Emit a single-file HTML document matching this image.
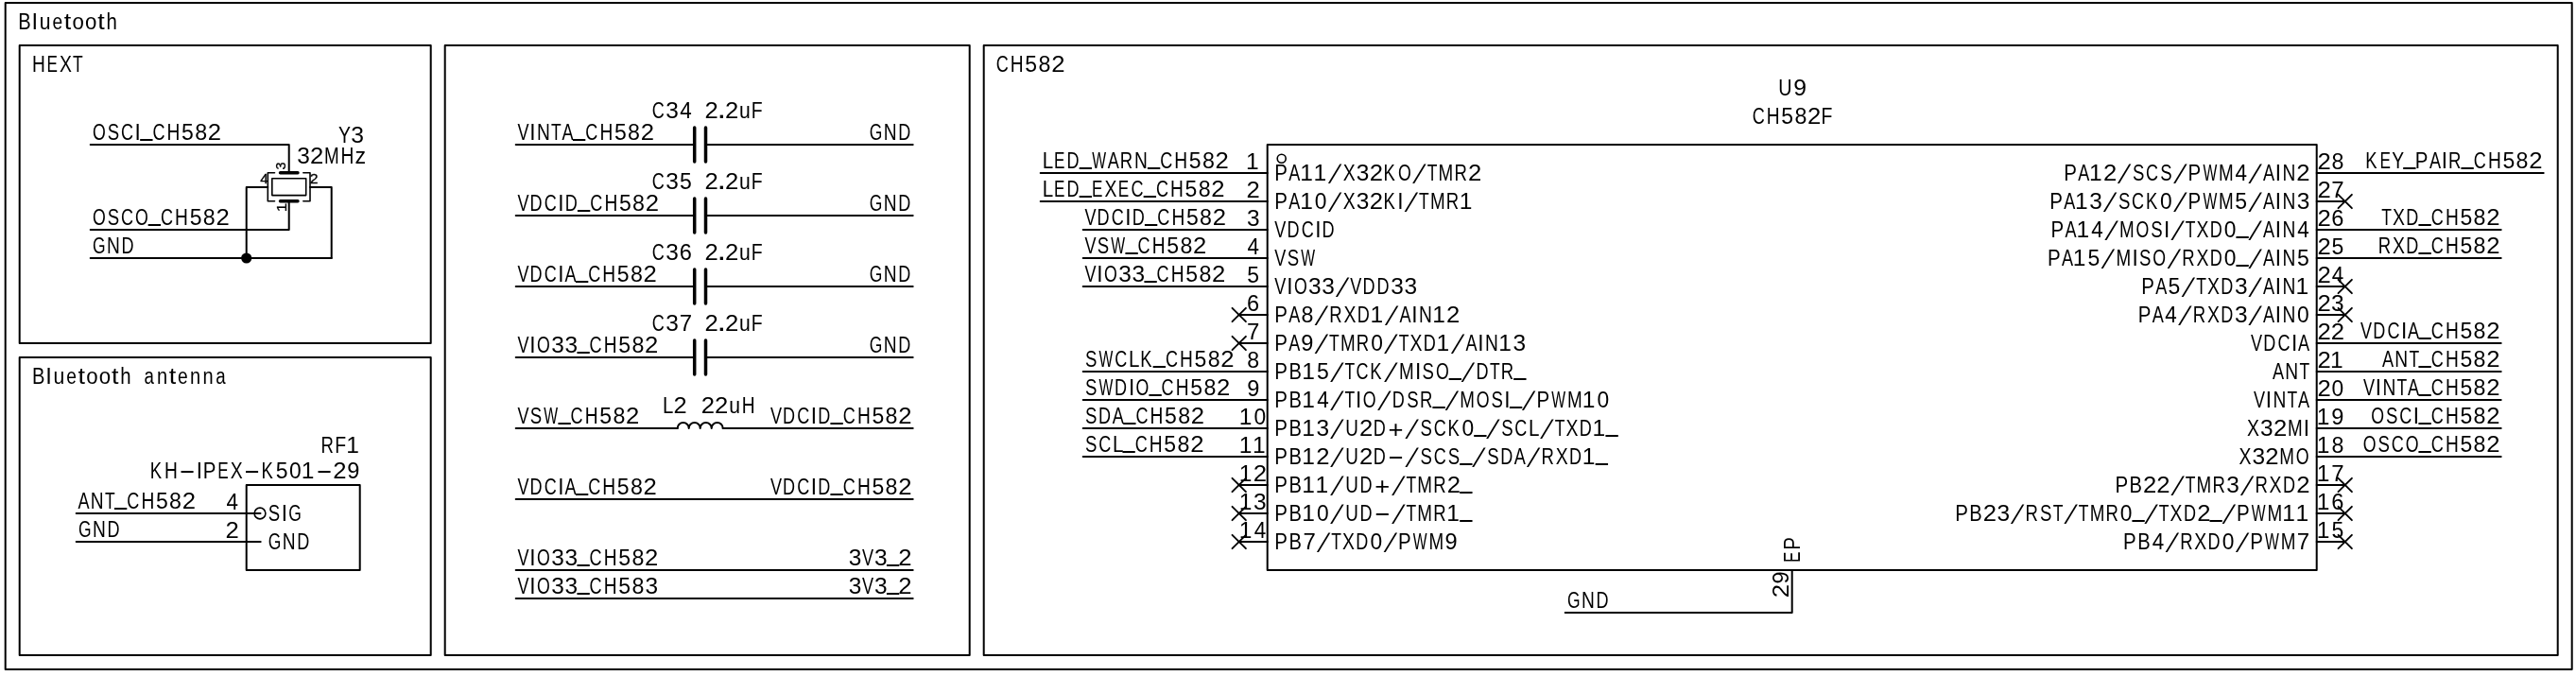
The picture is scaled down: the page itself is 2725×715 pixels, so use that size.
<!DOCTYPE html>
<html><head><meta charset="utf-8"><title>Bluetooth schematic</title><style>
html,body{margin:0;padding:0;background:#fff;}
svg{display:block;filter:grayscale(100%);}
text{font-family:"Liberation Sans",sans-serif;font-size:24.5px;fill:#000;stroke:none;font-kerning:none;}
.sm text{stroke:#000;stroke-width:0.5px;}
</style></head><body>
<svg width="2725" height="715" viewBox="0 0 2725 715">
<g stroke="#000" fill="none" stroke-linecap="round" stroke-linejoin="round">
<rect x="5.70" y="3.00" width="2715.00" height="705.00" stroke-width="2.00"/>
<rect x="20.70" y="48.00" width="435.00" height="315.00" stroke-width="2.00"/>
<rect x="20.70" y="378.00" width="435.00" height="315.00" stroke-width="2.00"/>
<rect x="470.70" y="48.00" width="555.00" height="645.00" stroke-width="2.00"/>
<rect x="1040.70" y="48.00" width="1665.00" height="645.00" stroke-width="2.00"/>
<text transform="matrix(0.821 0 0 1.000 26.15 31.00)" x="-8.53">B</text><text transform="matrix(1.022 0 0 1.000 36.83 31.00)" x="-2.73">l</text><text transform="matrix(0.865 0 0 1.000 47.58 31.00)" x="-6.79">u</text><text transform="matrix(0.783 0 0 1.000 60.80 31.00)" x="-6.79">e</text><text transform="matrix(1.103 0 0 1.000 71.51 31.00)" x="-3.50">t</text><text transform="matrix(0.908 0 0 1.000 82.58 31.00)" x="-6.81">o</text><text transform="matrix(0.908 0 0 1.000 96.15 31.00)" x="-6.81">o</text><text transform="matrix(1.103 0 0 1.000 107.22 31.00)" x="-3.50">t</text><text transform="matrix(0.832 0 0 1.000 118.30 31.00)" x="-6.87">h</text>
<text transform="matrix(0.782 0 0 1.000 40.84 75.70)" x="-8.85">H</text><text transform="matrix(0.700 0 0 1.000 55.48 75.70)" x="-8.65">E</text><text transform="matrix(0.792 0 0 1.000 69.41 75.70)" x="-8.19">X</text><text transform="matrix(0.715 0 0 1.000 82.26 75.70)" x="-7.48">T</text>
<text transform="matrix(0.821 0 0 1.000 40.90 405.70)" x="-8.53">B</text><text transform="matrix(1.022 0 0 1.000 51.57 405.70)" x="-2.73">l</text><text transform="matrix(0.865 0 0 1.000 62.32 405.70)" x="-6.79">u</text><text transform="matrix(0.783 0 0 1.000 75.54 405.70)" x="-6.79">e</text><text transform="matrix(1.103 0 0 1.000 86.25 405.70)" x="-3.50">t</text><text transform="matrix(0.908 0 0 1.000 97.32 405.70)" x="-6.81">o</text><text transform="matrix(0.908 0 0 1.000 110.90 405.70)" x="-6.81">o</text><text transform="matrix(1.103 0 0 1.000 121.97 405.70)" x="-3.50">t</text><text transform="matrix(0.832 0 0 1.000 133.04 405.70)" x="-6.87">h</text><text transform="matrix(0.763 0 0 1.000 158.04 405.70)" x="-7.33">a</text><text transform="matrix(0.817 0 0 1.000 171.61 405.70)" x="-6.83">n</text><text transform="matrix(1.103 0 0 1.000 182.68 405.70)" x="-3.50">t</text><text transform="matrix(0.783 0 0 1.000 193.40 405.70)" x="-6.79">e</text><text transform="matrix(0.817 0 0 1.000 206.61 405.70)" x="-6.83">n</text><text transform="matrix(0.817 0 0 1.000 220.18 405.70)" x="-6.83">n</text><text transform="matrix(0.763 0 0 1.000 233.75 405.70)" x="-7.33">a</text>
<text transform="matrix(0.735 0 0 1.000 1060.36 75.70)" x="-9.00">C</text><text transform="matrix(0.782 0 0 1.000 1075.72 75.70)" x="-8.85">H</text><text transform="matrix(0.938 0 0 1.000 1090.72 75.70)" x="-6.79">5</text><text transform="matrix(0.948 0 0 1.000 1105.00 75.70)" x="-6.81">8</text><text transform="matrix(1.048 0 0 1.000 1119.29 75.70)" x="-6.81">2</text>
<polyline points="95.70,153.00 305.70,153.00 305.70,182.80" stroke-width="2.00"/>
<polyline points="95.70,243.00 305.70,243.00 305.70,212.80" stroke-width="2.00"/>
<polyline points="283.30,198.00 260.70,198.00 260.70,273.00" stroke-width="2.00"/>
<polyline points="328.00,198.00 350.70,198.00 350.70,273.00" stroke-width="2.00"/>
<line x1="95.70" y1="273.00" x2="350.70" y2="273.00" stroke-width="2.00"/>
<circle cx="260.70" cy="273.00" r="5.6" fill="#000" stroke="none"/>
<line x1="296.50" y1="182.80" x2="315.00" y2="182.80" stroke-width="3.40"/>
<line x1="296.50" y1="212.80" x2="315.00" y2="212.80" stroke-width="3.40"/>
<rect x="287.80" y="188.80" width="35.90" height="17.80" stroke-width="1.60"/>
<polyline points="290.50,182.80 283.30,182.80 283.30,212.80 290.50,212.80" stroke-width="1.60"/>
<polyline points="320.80,182.80 328.00,182.80 328.00,212.80 320.80,212.80" stroke-width="1.60"/>
<text transform="matrix(0.724 0 0 1.000 104.86 147.80)" x="-9.52">O</text><text transform="matrix(0.759 0 0 1.000 119.86 147.80)" x="-8.16">S</text><text transform="matrix(0.735 0 0 1.000 134.50 147.80)" x="-9.00">C</text><text transform="matrix(0.919 0 0 1.000 145.57 147.80)" x="-3.40">I</text><text transform="matrix(0.939 0 0 1.300 154.86 143.08)" x="-6.77">_</text><text transform="matrix(0.735 0 0 1.000 168.07 147.80)" x="-9.00">C</text><text transform="matrix(0.782 0 0 1.000 183.43 147.80)" x="-8.85">H</text><text transform="matrix(0.938 0 0 1.000 198.43 147.80)" x="-6.79">5</text><text transform="matrix(0.948 0 0 1.000 212.71 147.80)" x="-6.81">8</text><text transform="matrix(1.048 0 0 1.000 227.00 147.80)" x="-6.81">2</text>
<text transform="matrix(0.724 0 0 1.000 104.86 237.80)" x="-9.52">O</text><text transform="matrix(0.759 0 0 1.000 119.86 237.80)" x="-8.16">S</text><text transform="matrix(0.735 0 0 1.000 134.50 237.80)" x="-9.00">C</text><text transform="matrix(0.724 0 0 1.000 149.86 237.80)" x="-9.52">O</text><text transform="matrix(0.939 0 0 1.300 163.43 233.08)" x="-6.77">_</text><text transform="matrix(0.735 0 0 1.000 176.64 237.80)" x="-9.00">C</text><text transform="matrix(0.782 0 0 1.000 192.00 237.80)" x="-8.85">H</text><text transform="matrix(0.938 0 0 1.000 207.00 237.80)" x="-6.79">5</text><text transform="matrix(0.948 0 0 1.000 221.29 237.80)" x="-6.81">8</text><text transform="matrix(1.048 0 0 1.000 235.57 237.80)" x="-6.81">2</text>
<text transform="matrix(0.713 0 0 1.000 104.50 267.80)" x="-9.23">G</text><text transform="matrix(0.782 0 0 1.000 119.86 267.80)" x="-8.85">N</text><text transform="matrix(0.737 0 0 1.000 135.21 267.80)" x="-9.27">D</text>
<text transform="matrix(0.793 0 0 1.000 364.35 151.30)" x="-8.17">Y</text><text transform="matrix(1.008 0 0 1.000 378.05 151.30)" x="-6.74">3</text>
<text transform="matrix(0.999 0 0 1.000 320.95 172.60)" x="-6.74">3</text><text transform="matrix(1.048 0 0 1.000 335.23 172.60)" x="-6.81">2</text><text transform="matrix(0.769 0 0 1.000 350.95 172.60)" x="-10.20">M</text><text transform="matrix(0.782 0 0 1.000 367.38 172.60)" x="-8.85">H</text><text transform="matrix(0.947 0 0 1.000 381.30 172.60)" x="-6.01">z</text>
<g class="sm">
<text transform="matrix(0.624 0 0 0.592 279.45 193.80)" x="-6.74">4</text>
<text transform="matrix(0.645 0 0 0.592 332.10 193.80)" x="-6.81">2</text>
<g transform="rotate(-90)"><text transform="matrix(0.585 0 0 0.592 -175.60 302.00)" x="-6.74">3</text></g>
<g transform="rotate(-90)"><text transform="matrix(0.701 0 0 0.592 -219.30 302.60)" x="-7.15">1</text></g>
</g>
<rect x="260.70" y="513.00" width="120.00" height="90.00" stroke-width="2.00"/>
<line x1="80.70" y1="543.00" x2="275.50" y2="543.00" stroke-width="2.00"/>
<line x1="80.70" y1="573.00" x2="275.70" y2="573.00" stroke-width="2.00"/>
<circle cx="275.0" cy="543.00" r="5.9" stroke-width="1.6"/>
<text transform="matrix(0.756 0 0 1.000 346.60 478.90)" x="-9.28">R</text><text transform="matrix(0.793 0 0 1.000 360.53 478.90)" x="-8.00">F</text><text transform="matrix(1.003 0 0 1.000 373.50 478.90)" x="-7.15">1</text>
<text transform="matrix(0.754 0 0 1.000 165.57 505.90)" x="-9.04">K</text><text transform="matrix(0.782 0 0 1.000 180.93 505.90)" x="-8.85">H</text><text transform="matrix(0.962 0 0 1.200 198.07 506.70)" x="-6.81">–</text><text transform="matrix(0.919 0 0 1.000 210.93 505.90)" x="-3.40">I</text><text transform="matrix(0.836 0 0 1.000 222.00 505.90)" x="-8.53">P</text><text transform="matrix(0.700 0 0 1.000 236.28 505.90)" x="-8.65">E</text><text transform="matrix(0.792 0 0 1.000 250.21 505.90)" x="-8.19">X</text><text transform="matrix(0.962 0 0 1.200 266.64 506.70)" x="-6.81">–</text><text transform="matrix(0.754 0 0 1.000 283.43 505.90)" x="-9.04">K</text><text transform="matrix(0.938 0 0 1.000 298.07 505.90)" x="-6.79">5</text><text transform="matrix(0.931 0 0 1.000 312.35 505.90)" x="-6.81">0</text><text transform="matrix(1.003 0 0 1.000 326.04 505.90)" x="-7.15">1</text><text transform="matrix(0.962 0 0 1.200 343.07 506.70)" x="-6.81">–</text><text transform="matrix(1.048 0 0 1.000 359.50 505.90)" x="-6.81">2</text><text transform="matrix(0.963 0 0 1.000 373.78 505.90)" x="-6.81">9</text>
<text transform="matrix(0.739 0 0 1.000 88.43 537.80)" x="-8.17">A</text><text transform="matrix(0.782 0 0 1.000 102.71 537.80)" x="-8.85">N</text><text transform="matrix(0.715 0 0 1.000 116.29 537.80)" x="-7.48">T</text><text transform="matrix(0.939 0 0 1.300 127.71 533.08)" x="-6.77">_</text><text transform="matrix(0.735 0 0 1.000 140.93 537.80)" x="-9.00">C</text><text transform="matrix(0.782 0 0 1.000 156.29 537.80)" x="-8.85">H</text><text transform="matrix(0.938 0 0 1.000 171.29 537.80)" x="-6.79">5</text><text transform="matrix(0.948 0 0 1.000 185.57 537.80)" x="-6.81">8</text><text transform="matrix(1.048 0 0 1.000 199.86 537.80)" x="-6.81">2</text>
<text transform="matrix(0.713 0 0 1.000 89.50 567.80)" x="-9.23">G</text><text transform="matrix(0.782 0 0 1.000 104.86 567.80)" x="-8.85">N</text><text transform="matrix(0.737 0 0 1.000 120.21 567.80)" x="-9.27">D</text>
<text transform="matrix(0.915 0 0 1.000 245.70 538.80)" x="-6.74">4</text>
<text transform="matrix(1.048 0 0 1.000 245.70 568.80)" x="-6.81">2</text>
<text transform="matrix(0.759 0 0 1.000 290.04 550.80)" x="-8.16">S</text><text transform="matrix(0.919 0 0 1.000 300.76 550.80)" x="-3.40">I</text><text transform="matrix(0.713 0 0 1.000 311.83 550.80)" x="-9.23">G</text>
<text transform="matrix(0.713 0 0 1.000 290.40 580.80)" x="-9.23">G</text><text transform="matrix(0.782 0 0 1.000 305.76 580.80)" x="-8.85">N</text><text transform="matrix(0.737 0 0 1.000 321.11 580.80)" x="-9.27">D</text>
<line x1="545.70" y1="153.00" x2="734.70" y2="153.00" stroke-width="2.00"/>
<line x1="746.50" y1="153.00" x2="965.70" y2="153.00" stroke-width="2.00"/>
<line x1="734.70" y1="135.00" x2="734.70" y2="171.00" stroke-width="3.50"/>
<line x1="746.50" y1="135.00" x2="746.50" y2="171.00" stroke-width="3.50"/>
<text transform="matrix(0.735 0 0 1.000 696.36 124.90)" x="-9.00">C</text><text transform="matrix(0.999 0 0 1.000 711.00 124.90)" x="-6.74">3</text><text transform="matrix(0.915 0 0 1.000 725.29 124.90)" x="-6.74">4</text>
<text transform="matrix(1.048 0 0 1.000 752.61 124.90)" x="-6.81">2</text><text transform="matrix(1.415 0 0 1.250 763.33 124.90)" x="-3.40">.</text><text transform="matrix(1.048 0 0 1.000 774.04 124.90)" x="-6.81">2</text><text transform="matrix(0.865 0 0 1.000 787.97 124.90)" x="-6.79">u</text><text transform="matrix(0.793 0 0 1.000 801.19 124.90)" x="-8.00">F</text>
<text transform="matrix(0.713 0 0 1.000 926.29 147.80)" x="-9.23">G</text><text transform="matrix(0.782 0 0 1.000 941.64 147.80)" x="-8.85">N</text><text transform="matrix(0.737 0 0 1.000 957.00 147.80)" x="-9.27">D</text>
<line x1="545.70" y1="228.00" x2="734.70" y2="228.00" stroke-width="2.00"/>
<line x1="746.50" y1="228.00" x2="965.70" y2="228.00" stroke-width="2.00"/>
<line x1="734.70" y1="210.00" x2="734.70" y2="246.00" stroke-width="3.50"/>
<line x1="746.50" y1="210.00" x2="746.50" y2="246.00" stroke-width="3.50"/>
<text transform="matrix(0.735 0 0 1.000 696.46 199.90)" x="-9.00">C</text><text transform="matrix(0.999 0 0 1.000 711.10 199.90)" x="-6.74">3</text><text transform="matrix(0.938 0 0 1.000 725.39 199.90)" x="-6.79">5</text>
<text transform="matrix(1.048 0 0 1.000 752.61 199.90)" x="-6.81">2</text><text transform="matrix(1.415 0 0 1.250 763.33 199.90)" x="-3.40">.</text><text transform="matrix(1.048 0 0 1.000 774.04 199.90)" x="-6.81">2</text><text transform="matrix(0.865 0 0 1.000 787.97 199.90)" x="-6.79">u</text><text transform="matrix(0.793 0 0 1.000 801.19 199.90)" x="-8.00">F</text>
<text transform="matrix(0.713 0 0 1.000 926.29 222.80)" x="-9.23">G</text><text transform="matrix(0.782 0 0 1.000 941.64 222.80)" x="-8.85">N</text><text transform="matrix(0.737 0 0 1.000 957.00 222.80)" x="-9.27">D</text>
<line x1="545.70" y1="303.00" x2="734.70" y2="303.00" stroke-width="2.00"/>
<line x1="746.50" y1="303.00" x2="965.70" y2="303.00" stroke-width="2.00"/>
<line x1="734.70" y1="285.00" x2="734.70" y2="321.00" stroke-width="3.50"/>
<line x1="746.50" y1="285.00" x2="746.50" y2="321.00" stroke-width="3.50"/>
<text transform="matrix(0.735 0 0 1.000 696.46 274.90)" x="-9.00">C</text><text transform="matrix(0.999 0 0 1.000 711.10 274.90)" x="-6.74">3</text><text transform="matrix(0.964 0 0 1.000 725.39 274.90)" x="-6.90">6</text>
<text transform="matrix(1.048 0 0 1.000 752.61 274.90)" x="-6.81">2</text><text transform="matrix(1.415 0 0 1.250 763.33 274.90)" x="-3.40">.</text><text transform="matrix(1.048 0 0 1.000 774.04 274.90)" x="-6.81">2</text><text transform="matrix(0.865 0 0 1.000 787.97 274.90)" x="-6.79">u</text><text transform="matrix(0.793 0 0 1.000 801.19 274.90)" x="-8.00">F</text>
<text transform="matrix(0.713 0 0 1.000 926.29 297.80)" x="-9.23">G</text><text transform="matrix(0.782 0 0 1.000 941.64 297.80)" x="-8.85">N</text><text transform="matrix(0.737 0 0 1.000 957.00 297.80)" x="-9.27">D</text>
<line x1="545.70" y1="378.00" x2="734.70" y2="378.00" stroke-width="2.00"/>
<line x1="746.50" y1="378.00" x2="965.70" y2="378.00" stroke-width="2.00"/>
<line x1="734.70" y1="360.00" x2="734.70" y2="396.00" stroke-width="3.50"/>
<line x1="746.50" y1="360.00" x2="746.50" y2="396.00" stroke-width="3.50"/>
<text transform="matrix(0.735 0 0 1.000 696.46 349.90)" x="-9.00">C</text><text transform="matrix(0.999 0 0 1.000 711.10 349.90)" x="-6.74">3</text><text transform="matrix(0.979 0 0 1.000 725.39 349.90)" x="-6.82">7</text>
<text transform="matrix(1.048 0 0 1.000 752.61 349.90)" x="-6.81">2</text><text transform="matrix(1.415 0 0 1.250 763.33 349.90)" x="-3.40">.</text><text transform="matrix(1.048 0 0 1.000 774.04 349.90)" x="-6.81">2</text><text transform="matrix(0.865 0 0 1.000 787.97 349.90)" x="-6.79">u</text><text transform="matrix(0.793 0 0 1.000 801.19 349.90)" x="-8.00">F</text>
<text transform="matrix(0.713 0 0 1.000 926.29 372.80)" x="-9.23">G</text><text transform="matrix(0.782 0 0 1.000 941.64 372.80)" x="-8.85">N</text><text transform="matrix(0.737 0 0 1.000 957.00 372.80)" x="-9.27">D</text>
<text transform="matrix(0.738 0 0 1.000 553.43 147.80)" x="-8.17">V</text><text transform="matrix(0.919 0 0 1.000 563.43 147.80)" x="-3.40">I</text><text transform="matrix(0.782 0 0 1.000 574.86 147.80)" x="-8.85">N</text><text transform="matrix(0.715 0 0 1.000 588.43 147.80)" x="-7.48">T</text><text transform="matrix(0.739 0 0 1.000 600.57 147.80)" x="-8.17">A</text><text transform="matrix(0.939 0 0 1.300 612.71 143.08)" x="-6.77">_</text><text transform="matrix(0.735 0 0 1.000 625.93 147.80)" x="-9.00">C</text><text transform="matrix(0.782 0 0 1.000 641.29 147.80)" x="-8.85">H</text><text transform="matrix(0.938 0 0 1.000 656.29 147.80)" x="-6.79">5</text><text transform="matrix(0.948 0 0 1.000 670.57 147.80)" x="-6.81">8</text><text transform="matrix(1.048 0 0 1.000 684.86 147.80)" x="-6.81">2</text>
<text transform="matrix(0.738 0 0 1.000 553.43 222.80)" x="-8.17">V</text><text transform="matrix(0.737 0 0 1.000 567.36 222.80)" x="-9.27">D</text><text transform="matrix(0.735 0 0 1.000 582.36 222.80)" x="-9.00">C</text><text transform="matrix(0.919 0 0 1.000 593.43 222.80)" x="-3.40">I</text><text transform="matrix(0.737 0 0 1.000 604.50 222.80)" x="-9.27">D</text><text transform="matrix(0.939 0 0 1.300 617.71 218.08)" x="-6.77">_</text><text transform="matrix(0.735 0 0 1.000 630.93 222.80)" x="-9.00">C</text><text transform="matrix(0.782 0 0 1.000 646.29 222.80)" x="-8.85">H</text><text transform="matrix(0.938 0 0 1.000 661.29 222.80)" x="-6.79">5</text><text transform="matrix(0.948 0 0 1.000 675.57 222.80)" x="-6.81">8</text><text transform="matrix(1.048 0 0 1.000 689.86 222.80)" x="-6.81">2</text>
<text transform="matrix(0.738 0 0 1.000 553.43 297.80)" x="-8.17">V</text><text transform="matrix(0.737 0 0 1.000 567.36 297.80)" x="-9.27">D</text><text transform="matrix(0.735 0 0 1.000 582.36 297.80)" x="-9.00">C</text><text transform="matrix(0.919 0 0 1.000 593.43 297.80)" x="-3.40">I</text><text transform="matrix(0.739 0 0 1.000 603.43 297.80)" x="-8.17">A</text><text transform="matrix(0.939 0 0 1.300 615.57 293.08)" x="-6.77">_</text><text transform="matrix(0.735 0 0 1.000 628.79 297.80)" x="-9.00">C</text><text transform="matrix(0.782 0 0 1.000 644.14 297.80)" x="-8.85">H</text><text transform="matrix(0.938 0 0 1.000 659.14 297.80)" x="-6.79">5</text><text transform="matrix(0.948 0 0 1.000 673.43 297.80)" x="-6.81">8</text><text transform="matrix(1.048 0 0 1.000 687.71 297.80)" x="-6.81">2</text>
<text transform="matrix(0.738 0 0 1.000 553.43 372.80)" x="-8.17">V</text><text transform="matrix(0.919 0 0 1.000 563.43 372.80)" x="-3.40">I</text><text transform="matrix(0.724 0 0 1.000 574.86 372.80)" x="-9.52">O</text><text transform="matrix(0.999 0 0 1.000 589.86 372.80)" x="-6.74">3</text><text transform="matrix(0.999 0 0 1.000 604.14 372.80)" x="-6.74">3</text><text transform="matrix(0.939 0 0 1.300 617.00 368.08)" x="-6.77">_</text><text transform="matrix(0.735 0 0 1.000 630.21 372.80)" x="-9.00">C</text><text transform="matrix(0.782 0 0 1.000 645.57 372.80)" x="-8.85">H</text><text transform="matrix(0.938 0 0 1.000 660.57 372.80)" x="-6.79">5</text><text transform="matrix(0.948 0 0 1.000 674.86 372.80)" x="-6.81">8</text><text transform="matrix(1.048 0 0 1.000 689.14 372.80)" x="-6.81">2</text>
<line x1="545.70" y1="453.00" x2="716.70" y2="453.00" stroke-width="2.00"/>
<line x1="764.70" y1="453.00" x2="965.70" y2="453.00" stroke-width="2.00"/>
<path d="M716.7,453.00 a6,6 0 0 1 12,0 a6,6 0 0 1 12,0 a6,6 0 0 1 12,0 a6,6 0 0 1 12,0" stroke-width="2"/>
<text transform="matrix(0.738 0 0 1.000 553.43 447.80)" x="-8.17">V</text><text transform="matrix(0.759 0 0 1.000 567.00 447.80)" x="-8.16">S</text><text transform="matrix(0.641 0 0 1.000 582.71 447.80)" x="-11.57">W</text><text transform="matrix(0.939 0 0 1.300 597.00 443.08)" x="-6.77">_</text><text transform="matrix(0.735 0 0 1.000 610.21 447.80)" x="-9.00">C</text><text transform="matrix(0.782 0 0 1.000 625.57 447.80)" x="-8.85">H</text><text transform="matrix(0.938 0 0 1.000 640.57 447.80)" x="-6.79">5</text><text transform="matrix(0.948 0 0 1.000 654.86 447.80)" x="-6.81">8</text><text transform="matrix(1.048 0 0 1.000 669.14 447.80)" x="-6.81">2</text>
<text transform="matrix(0.834 0 0 1.000 707.21 436.80)" x="-7.41">L</text><text transform="matrix(1.038 0 0 1.000 719.50 436.80)" x="-6.81">2</text>
<text transform="matrix(1.048 0 0 1.000 748.87 436.80)" x="-6.81">2</text><text transform="matrix(1.048 0 0 1.000 763.16 436.80)" x="-6.81">2</text><text transform="matrix(0.865 0 0 1.000 777.09 436.80)" x="-6.79">u</text><text transform="matrix(0.782 0 0 1.000 791.73 436.80)" x="-8.85">H</text>
<text transform="matrix(0.738 0 0 1.000 820.93 447.80)" x="-8.17">V</text><text transform="matrix(0.737 0 0 1.000 834.86 447.80)" x="-9.27">D</text><text transform="matrix(0.735 0 0 1.000 849.86 447.80)" x="-9.00">C</text><text transform="matrix(0.919 0 0 1.000 860.93 447.80)" x="-3.40">I</text><text transform="matrix(0.737 0 0 1.000 872.00 447.80)" x="-9.27">D</text><text transform="matrix(0.939 0 0 1.300 885.21 443.08)" x="-6.77">_</text><text transform="matrix(0.735 0 0 1.000 898.43 447.80)" x="-9.00">C</text><text transform="matrix(0.782 0 0 1.000 913.79 447.80)" x="-8.85">H</text><text transform="matrix(0.938 0 0 1.000 928.79 447.80)" x="-6.79">5</text><text transform="matrix(0.948 0 0 1.000 943.07 447.80)" x="-6.81">8</text><text transform="matrix(1.048 0 0 1.000 957.36 447.80)" x="-6.81">2</text>
<line x1="545.70" y1="528.00" x2="965.70" y2="528.00" stroke-width="2.00"/>
<text transform="matrix(0.738 0 0 1.000 553.43 522.80)" x="-8.17">V</text><text transform="matrix(0.737 0 0 1.000 567.36 522.80)" x="-9.27">D</text><text transform="matrix(0.735 0 0 1.000 582.36 522.80)" x="-9.00">C</text><text transform="matrix(0.919 0 0 1.000 593.43 522.80)" x="-3.40">I</text><text transform="matrix(0.739 0 0 1.000 603.43 522.80)" x="-8.17">A</text><text transform="matrix(0.939 0 0 1.300 615.57 518.08)" x="-6.77">_</text><text transform="matrix(0.735 0 0 1.000 628.79 522.80)" x="-9.00">C</text><text transform="matrix(0.782 0 0 1.000 644.14 522.80)" x="-8.85">H</text><text transform="matrix(0.938 0 0 1.000 659.14 522.80)" x="-6.79">5</text><text transform="matrix(0.948 0 0 1.000 673.43 522.80)" x="-6.81">8</text><text transform="matrix(1.048 0 0 1.000 687.71 522.80)" x="-6.81">2</text>
<text transform="matrix(0.738 0 0 1.000 820.93 522.80)" x="-8.17">V</text><text transform="matrix(0.737 0 0 1.000 834.86 522.80)" x="-9.27">D</text><text transform="matrix(0.735 0 0 1.000 849.86 522.80)" x="-9.00">C</text><text transform="matrix(0.919 0 0 1.000 860.93 522.80)" x="-3.40">I</text><text transform="matrix(0.737 0 0 1.000 872.00 522.80)" x="-9.27">D</text><text transform="matrix(0.939 0 0 1.300 885.21 518.08)" x="-6.77">_</text><text transform="matrix(0.735 0 0 1.000 898.43 522.80)" x="-9.00">C</text><text transform="matrix(0.782 0 0 1.000 913.79 522.80)" x="-8.85">H</text><text transform="matrix(0.938 0 0 1.000 928.79 522.80)" x="-6.79">5</text><text transform="matrix(0.948 0 0 1.000 943.07 522.80)" x="-6.81">8</text><text transform="matrix(1.048 0 0 1.000 957.36 522.80)" x="-6.81">2</text>
<line x1="545.70" y1="603.00" x2="965.70" y2="603.00" stroke-width="2.00"/>
<text transform="matrix(0.738 0 0 1.000 553.43 597.80)" x="-8.17">V</text><text transform="matrix(0.919 0 0 1.000 563.43 597.80)" x="-3.40">I</text><text transform="matrix(0.724 0 0 1.000 574.86 597.80)" x="-9.52">O</text><text transform="matrix(0.999 0 0 1.000 589.86 597.80)" x="-6.74">3</text><text transform="matrix(0.999 0 0 1.000 604.14 597.80)" x="-6.74">3</text><text transform="matrix(0.939 0 0 1.300 617.00 593.08)" x="-6.77">_</text><text transform="matrix(0.735 0 0 1.000 630.21 597.80)" x="-9.00">C</text><text transform="matrix(0.782 0 0 1.000 645.57 597.80)" x="-8.85">H</text><text transform="matrix(0.938 0 0 1.000 660.57 597.80)" x="-6.79">5</text><text transform="matrix(0.948 0 0 1.000 674.86 597.80)" x="-6.81">8</text><text transform="matrix(1.048 0 0 1.000 689.14 597.80)" x="-6.81">2</text>
<text transform="matrix(0.999 0 0 1.000 904.50 597.80)" x="-6.74">3</text><text transform="matrix(0.738 0 0 1.000 918.07 597.80)" x="-8.17">V</text><text transform="matrix(0.999 0 0 1.000 931.64 597.80)" x="-6.74">3</text><text transform="matrix(0.939 0 0 1.300 944.50 593.08)" x="-6.77">_</text><text transform="matrix(1.048 0 0 1.000 957.36 597.80)" x="-6.81">2</text>
<line x1="545.70" y1="633.00" x2="965.70" y2="633.00" stroke-width="2.00"/>
<text transform="matrix(0.738 0 0 1.000 553.43 627.80)" x="-8.17">V</text><text transform="matrix(0.919 0 0 1.000 563.43 627.80)" x="-3.40">I</text><text transform="matrix(0.724 0 0 1.000 574.86 627.80)" x="-9.52">O</text><text transform="matrix(0.999 0 0 1.000 589.86 627.80)" x="-6.74">3</text><text transform="matrix(0.999 0 0 1.000 604.14 627.80)" x="-6.74">3</text><text transform="matrix(0.939 0 0 1.300 617.00 623.08)" x="-6.77">_</text><text transform="matrix(0.735 0 0 1.000 630.21 627.80)" x="-9.00">C</text><text transform="matrix(0.782 0 0 1.000 645.57 627.80)" x="-8.85">H</text><text transform="matrix(0.938 0 0 1.000 660.57 627.80)" x="-6.79">5</text><text transform="matrix(0.948 0 0 1.000 674.86 627.80)" x="-6.81">8</text><text transform="matrix(0.999 0 0 1.000 689.14 627.80)" x="-6.74">3</text>
<text transform="matrix(0.999 0 0 1.000 904.50 627.80)" x="-6.74">3</text><text transform="matrix(0.738 0 0 1.000 918.07 627.80)" x="-8.17">V</text><text transform="matrix(0.999 0 0 1.000 931.64 627.80)" x="-6.74">3</text><text transform="matrix(0.939 0 0 1.300 944.50 623.08)" x="-6.77">_</text><text transform="matrix(1.048 0 0 1.000 957.36 627.80)" x="-6.81">2</text>
<rect x="1340.70" y="153.00" width="1110.00" height="450.00" stroke-width="2.00"/>
<text transform="matrix(0.808 0 0 1.000 1888.42 100.60)" x="-8.85">U</text><text transform="matrix(1.012 0 0 1.000 1904.18 100.60)" x="-6.81">9</text>
<text transform="matrix(0.735 0 0 1.000 1860.28 130.80)" x="-9.00">C</text><text transform="matrix(0.782 0 0 1.000 1875.63 130.80)" x="-8.85">H</text><text transform="matrix(0.938 0 0 1.000 1890.63 130.80)" x="-6.79">5</text><text transform="matrix(0.948 0 0 1.000 1904.92 130.80)" x="-6.81">8</text><text transform="matrix(1.048 0 0 1.000 1919.20 130.80)" x="-6.81">2</text><text transform="matrix(0.793 0 0 1.000 1932.78 130.80)" x="-8.00">F</text>
<circle cx="1355.7" cy="167.8" r="4.5" stroke-width="1.6"/>
<line x1="1310.70" y1="183.00" x2="1340.70" y2="183.00" stroke-width="2.00"/>
<text transform="matrix(1.003 0 0 1.000 1325.10 178.80)" x="-7.15">1</text>
<text transform="matrix(0.836 0 0 1.000 1355.40 190.80)" x="-8.53">P</text><text transform="matrix(0.739 0 0 1.000 1369.33 190.80)" x="-8.17">A</text><text transform="matrix(1.003 0 0 1.000 1382.30 190.80)" x="-7.15">1</text><text transform="matrix(1.003 0 0 1.000 1396.59 190.80)" x="-7.15">1</text><text transform="matrix(1.181 0 0 1.216 1412.19 194.00)" x="-1.16">∕</text><text transform="matrix(0.792 0 0 1.000 1427.19 190.80)" x="-8.19">X</text><text transform="matrix(0.999 0 0 1.000 1441.47 190.80)" x="-6.74">3</text><text transform="matrix(1.048 0 0 1.000 1455.76 190.80)" x="-6.81">2</text><text transform="matrix(0.754 0 0 1.000 1470.40 190.80)" x="-9.04">K</text><text transform="matrix(0.724 0 0 1.000 1485.76 190.80)" x="-9.52">O</text><text transform="matrix(1.181 0 0 1.216 1501.47 194.00)" x="-1.16">∕</text><text transform="matrix(0.715 0 0 1.000 1515.04 190.80)" x="-7.48">T</text><text transform="matrix(0.769 0 0 1.000 1529.33 190.80)" x="-10.20">M</text><text transform="matrix(0.756 0 0 1.000 1545.40 190.80)" x="-9.28">R</text><text transform="matrix(1.048 0 0 1.000 1560.04 190.80)" x="-6.81">2</text>
<line x1="1100.70" y1="183.00" x2="1310.70" y2="183.00" stroke-width="2.00"/>
<text transform="matrix(0.842 0 0 1.000 1108.87 177.80)" x="-7.41">L</text><text transform="matrix(0.700 0 0 1.000 1120.93 177.80)" x="-8.65">E</text><text transform="matrix(0.737 0 0 1.000 1135.21 177.80)" x="-9.27">D</text><text transform="matrix(0.939 0 0 1.300 1148.43 173.08)" x="-6.77">_</text><text transform="matrix(0.641 0 0 1.000 1162.71 177.80)" x="-11.57">W</text><text transform="matrix(0.739 0 0 1.000 1177.71 177.80)" x="-8.17">A</text><text transform="matrix(0.756 0 0 1.000 1191.64 177.80)" x="-9.28">R</text><text transform="matrix(0.782 0 0 1.000 1207.00 177.80)" x="-8.85">N</text><text transform="matrix(0.939 0 0 1.300 1220.57 173.08)" x="-6.77">_</text><text transform="matrix(0.735 0 0 1.000 1233.79 177.80)" x="-9.00">C</text><text transform="matrix(0.782 0 0 1.000 1249.14 177.80)" x="-8.85">H</text><text transform="matrix(0.938 0 0 1.000 1264.14 177.80)" x="-6.79">5</text><text transform="matrix(0.948 0 0 1.000 1278.43 177.80)" x="-6.81">8</text><text transform="matrix(1.048 0 0 1.000 1292.71 177.80)" x="-6.81">2</text>
<line x1="1310.70" y1="213.00" x2="1340.70" y2="213.00" stroke-width="2.00"/>
<text transform="matrix(1.048 0 0 1.000 1325.70 208.80)" x="-6.81">2</text>
<text transform="matrix(0.836 0 0 1.000 1355.40 220.80)" x="-8.53">P</text><text transform="matrix(0.739 0 0 1.000 1369.33 220.80)" x="-8.17">A</text><text transform="matrix(1.003 0 0 1.000 1382.30 220.80)" x="-7.15">1</text><text transform="matrix(0.931 0 0 1.000 1397.19 220.80)" x="-6.81">0</text><text transform="matrix(1.181 0 0 1.216 1412.19 224.00)" x="-1.16">∕</text><text transform="matrix(0.792 0 0 1.000 1427.19 220.80)" x="-8.19">X</text><text transform="matrix(0.999 0 0 1.000 1441.47 220.80)" x="-6.74">3</text><text transform="matrix(1.048 0 0 1.000 1455.76 220.80)" x="-6.81">2</text><text transform="matrix(0.754 0 0 1.000 1470.40 220.80)" x="-9.04">K</text><text transform="matrix(0.919 0 0 1.000 1481.47 220.80)" x="-3.40">I</text><text transform="matrix(1.181 0 0 1.216 1492.90 224.00)" x="-1.16">∕</text><text transform="matrix(0.715 0 0 1.000 1506.47 220.80)" x="-7.48">T</text><text transform="matrix(0.769 0 0 1.000 1520.76 220.80)" x="-10.20">M</text><text transform="matrix(0.756 0 0 1.000 1536.83 220.80)" x="-9.28">R</text><text transform="matrix(1.003 0 0 1.000 1550.87 220.80)" x="-7.15">1</text>
<line x1="1100.70" y1="213.00" x2="1310.70" y2="213.00" stroke-width="2.00"/>
<text transform="matrix(0.842 0 0 1.000 1108.87 207.80)" x="-7.41">L</text><text transform="matrix(0.700 0 0 1.000 1120.93 207.80)" x="-8.65">E</text><text transform="matrix(0.737 0 0 1.000 1135.21 207.80)" x="-9.27">D</text><text transform="matrix(0.939 0 0 1.300 1148.43 203.08)" x="-6.77">_</text><text transform="matrix(0.700 0 0 1.000 1160.93 207.80)" x="-8.65">E</text><text transform="matrix(0.792 0 0 1.000 1174.86 207.80)" x="-8.19">X</text><text transform="matrix(0.700 0 0 1.000 1188.79 207.80)" x="-8.65">E</text><text transform="matrix(0.735 0 0 1.000 1203.07 207.80)" x="-9.00">C</text><text transform="matrix(0.939 0 0 1.300 1216.29 203.08)" x="-6.77">_</text><text transform="matrix(0.735 0 0 1.000 1229.50 207.80)" x="-9.00">C</text><text transform="matrix(0.782 0 0 1.000 1244.86 207.80)" x="-8.85">H</text><text transform="matrix(0.938 0 0 1.000 1259.86 207.80)" x="-6.79">5</text><text transform="matrix(0.948 0 0 1.000 1274.14 207.80)" x="-6.81">8</text><text transform="matrix(1.048 0 0 1.000 1288.43 207.80)" x="-6.81">2</text>
<line x1="1310.70" y1="243.00" x2="1340.70" y2="243.00" stroke-width="2.00"/>
<text transform="matrix(0.999 0 0 1.000 1325.70 238.80)" x="-6.74">3</text>
<text transform="matrix(0.738 0 0 1.000 1354.33 250.80)" x="-8.17">V</text><text transform="matrix(0.737 0 0 1.000 1368.26 250.80)" x="-9.27">D</text><text transform="matrix(0.735 0 0 1.000 1383.26 250.80)" x="-9.00">C</text><text transform="matrix(0.919 0 0 1.000 1394.33 250.80)" x="-3.40">I</text><text transform="matrix(0.737 0 0 1.000 1405.40 250.80)" x="-9.27">D</text>
<line x1="1145.70" y1="243.00" x2="1310.70" y2="243.00" stroke-width="2.00"/>
<text transform="matrix(0.738 0 0 1.000 1153.43 237.80)" x="-8.17">V</text><text transform="matrix(0.737 0 0 1.000 1167.36 237.80)" x="-9.27">D</text><text transform="matrix(0.735 0 0 1.000 1182.36 237.80)" x="-9.00">C</text><text transform="matrix(0.919 0 0 1.000 1193.43 237.80)" x="-3.40">I</text><text transform="matrix(0.737 0 0 1.000 1204.50 237.80)" x="-9.27">D</text><text transform="matrix(0.939 0 0 1.300 1217.71 233.08)" x="-6.77">_</text><text transform="matrix(0.735 0 0 1.000 1230.93 237.80)" x="-9.00">C</text><text transform="matrix(0.782 0 0 1.000 1246.29 237.80)" x="-8.85">H</text><text transform="matrix(0.938 0 0 1.000 1261.29 237.80)" x="-6.79">5</text><text transform="matrix(0.948 0 0 1.000 1275.57 237.80)" x="-6.81">8</text><text transform="matrix(1.048 0 0 1.000 1289.86 237.80)" x="-6.81">2</text>
<line x1="1310.70" y1="273.00" x2="1340.70" y2="273.00" stroke-width="2.00"/>
<text transform="matrix(0.915 0 0 1.000 1325.70 268.80)" x="-6.74">4</text>
<text transform="matrix(0.738 0 0 1.000 1354.33 280.80)" x="-8.17">V</text><text transform="matrix(0.759 0 0 1.000 1367.90 280.80)" x="-8.16">S</text><text transform="matrix(0.641 0 0 1.000 1383.61 280.80)" x="-11.57">W</text>
<line x1="1145.70" y1="273.00" x2="1310.70" y2="273.00" stroke-width="2.00"/>
<text transform="matrix(0.738 0 0 1.000 1153.43 267.80)" x="-8.17">V</text><text transform="matrix(0.759 0 0 1.000 1167.00 267.80)" x="-8.16">S</text><text transform="matrix(0.641 0 0 1.000 1182.71 267.80)" x="-11.57">W</text><text transform="matrix(0.939 0 0 1.300 1197.00 263.08)" x="-6.77">_</text><text transform="matrix(0.735 0 0 1.000 1210.21 267.80)" x="-9.00">C</text><text transform="matrix(0.782 0 0 1.000 1225.57 267.80)" x="-8.85">H</text><text transform="matrix(0.938 0 0 1.000 1240.57 267.80)" x="-6.79">5</text><text transform="matrix(0.948 0 0 1.000 1254.86 267.80)" x="-6.81">8</text><text transform="matrix(1.048 0 0 1.000 1269.14 267.80)" x="-6.81">2</text>
<line x1="1310.70" y1="303.00" x2="1340.70" y2="303.00" stroke-width="2.00"/>
<text transform="matrix(0.938 0 0 1.000 1325.70 298.80)" x="-6.79">5</text>
<text transform="matrix(0.738 0 0 1.000 1354.33 310.80)" x="-8.17">V</text><text transform="matrix(0.919 0 0 1.000 1364.33 310.80)" x="-3.40">I</text><text transform="matrix(0.724 0 0 1.000 1375.76 310.80)" x="-9.52">O</text><text transform="matrix(0.999 0 0 1.000 1390.76 310.80)" x="-6.74">3</text><text transform="matrix(0.999 0 0 1.000 1405.04 310.80)" x="-6.74">3</text><text transform="matrix(1.181 0 0 1.216 1420.04 314.00)" x="-1.16">∕</text><text transform="matrix(0.738 0 0 1.000 1434.33 310.80)" x="-8.17">V</text><text transform="matrix(0.737 0 0 1.000 1448.26 310.80)" x="-9.27">D</text><text transform="matrix(0.737 0 0 1.000 1463.26 310.80)" x="-9.27">D</text><text transform="matrix(0.999 0 0 1.000 1477.90 310.80)" x="-6.74">3</text><text transform="matrix(0.999 0 0 1.000 1492.19 310.80)" x="-6.74">3</text>
<line x1="1145.70" y1="303.00" x2="1310.70" y2="303.00" stroke-width="2.00"/>
<text transform="matrix(0.738 0 0 1.000 1153.43 297.80)" x="-8.17">V</text><text transform="matrix(0.919 0 0 1.000 1163.43 297.80)" x="-3.40">I</text><text transform="matrix(0.724 0 0 1.000 1174.86 297.80)" x="-9.52">O</text><text transform="matrix(0.999 0 0 1.000 1189.86 297.80)" x="-6.74">3</text><text transform="matrix(0.999 0 0 1.000 1204.14 297.80)" x="-6.74">3</text><text transform="matrix(0.939 0 0 1.300 1217.00 293.08)" x="-6.77">_</text><text transform="matrix(0.735 0 0 1.000 1230.21 297.80)" x="-9.00">C</text><text transform="matrix(0.782 0 0 1.000 1245.57 297.80)" x="-8.85">H</text><text transform="matrix(0.938 0 0 1.000 1260.57 297.80)" x="-6.79">5</text><text transform="matrix(0.948 0 0 1.000 1274.86 297.80)" x="-6.81">8</text><text transform="matrix(1.048 0 0 1.000 1289.14 297.80)" x="-6.81">2</text>
<line x1="1310.70" y1="333.00" x2="1340.70" y2="333.00" stroke-width="2.00"/>
<text transform="matrix(0.964 0 0 1.000 1325.70 328.80)" x="-6.90">6</text>
<text transform="matrix(0.836 0 0 1.000 1355.40 340.80)" x="-8.53">P</text><text transform="matrix(0.739 0 0 1.000 1369.33 340.80)" x="-8.17">A</text><text transform="matrix(0.948 0 0 1.000 1382.90 340.80)" x="-6.81">8</text><text transform="matrix(1.181 0 0 1.216 1397.90 344.00)" x="-1.16">∕</text><text transform="matrix(0.756 0 0 1.000 1413.26 340.80)" x="-9.28">R</text><text transform="matrix(0.792 0 0 1.000 1427.90 340.80)" x="-8.19">X</text><text transform="matrix(0.737 0 0 1.000 1442.54 340.80)" x="-9.27">D</text><text transform="matrix(1.003 0 0 1.000 1456.59 340.80)" x="-7.15">1</text><text transform="matrix(1.181 0 0 1.216 1472.19 344.00)" x="-1.16">∕</text><text transform="matrix(0.739 0 0 1.000 1486.47 340.80)" x="-8.17">A</text><text transform="matrix(0.919 0 0 1.000 1496.47 340.80)" x="-3.40">I</text><text transform="matrix(0.782 0 0 1.000 1507.90 340.80)" x="-8.85">N</text><text transform="matrix(1.003 0 0 1.000 1522.30 340.80)" x="-7.15">1</text><text transform="matrix(1.048 0 0 1.000 1537.19 340.80)" x="-6.81">2</text>
<line x1="1303.50" y1="325.80" x2="1317.90" y2="340.20" stroke-width="1.90"/>
<line x1="1303.50" y1="340.20" x2="1317.90" y2="325.80" stroke-width="1.90"/>
<line x1="1310.70" y1="363.00" x2="1340.70" y2="363.00" stroke-width="2.00"/>
<text transform="matrix(0.979 0 0 1.000 1325.70 358.80)" x="-6.82">7</text>
<text transform="matrix(0.836 0 0 1.000 1355.40 370.80)" x="-8.53">P</text><text transform="matrix(0.739 0 0 1.000 1369.33 370.80)" x="-8.17">A</text><text transform="matrix(0.963 0 0 1.000 1382.90 370.80)" x="-6.81">9</text><text transform="matrix(1.181 0 0 1.216 1397.90 374.00)" x="-1.16">∕</text><text transform="matrix(0.715 0 0 1.000 1411.47 370.80)" x="-7.48">T</text><text transform="matrix(0.769 0 0 1.000 1425.76 370.80)" x="-10.20">M</text><text transform="matrix(0.756 0 0 1.000 1441.83 370.80)" x="-9.28">R</text><text transform="matrix(0.931 0 0 1.000 1456.47 370.80)" x="-6.81">0</text><text transform="matrix(1.181 0 0 1.216 1471.47 374.00)" x="-1.16">∕</text><text transform="matrix(0.715 0 0 1.000 1485.04 370.80)" x="-7.48">T</text><text transform="matrix(0.792 0 0 1.000 1497.90 370.80)" x="-8.19">X</text><text transform="matrix(0.737 0 0 1.000 1512.54 370.80)" x="-9.27">D</text><text transform="matrix(1.003 0 0 1.000 1526.59 370.80)" x="-7.15">1</text><text transform="matrix(1.181 0 0 1.216 1542.19 374.00)" x="-1.16">∕</text><text transform="matrix(0.739 0 0 1.000 1556.47 370.80)" x="-8.17">A</text><text transform="matrix(0.919 0 0 1.000 1566.47 370.80)" x="-3.40">I</text><text transform="matrix(0.782 0 0 1.000 1577.90 370.80)" x="-8.85">N</text><text transform="matrix(1.003 0 0 1.000 1592.30 370.80)" x="-7.15">1</text><text transform="matrix(0.999 0 0 1.000 1607.19 370.80)" x="-6.74">3</text>
<line x1="1303.50" y1="355.80" x2="1317.90" y2="370.20" stroke-width="1.90"/>
<line x1="1303.50" y1="370.20" x2="1317.90" y2="355.80" stroke-width="1.90"/>
<line x1="1310.70" y1="393.00" x2="1340.70" y2="393.00" stroke-width="2.00"/>
<text transform="matrix(0.948 0 0 1.000 1325.70 388.80)" x="-6.81">8</text>
<text transform="matrix(0.836 0 0 1.000 1355.40 400.80)" x="-8.53">P</text><text transform="matrix(0.821 0 0 1.000 1370.40 400.80)" x="-8.53">B</text><text transform="matrix(1.003 0 0 1.000 1384.44 400.80)" x="-7.15">1</text><text transform="matrix(0.938 0 0 1.000 1399.33 400.80)" x="-6.79">5</text><text transform="matrix(1.181 0 0 1.216 1414.33 404.00)" x="-1.16">∕</text><text transform="matrix(0.715 0 0 1.000 1427.90 400.80)" x="-7.48">T</text><text transform="matrix(0.735 0 0 1.000 1441.11 400.80)" x="-9.00">C</text><text transform="matrix(0.754 0 0 1.000 1456.11 400.80)" x="-9.04">K</text><text transform="matrix(1.181 0 0 1.216 1471.47 404.00)" x="-1.16">∕</text><text transform="matrix(0.769 0 0 1.000 1487.90 400.80)" x="-10.20">M</text><text transform="matrix(0.919 0 0 1.000 1500.04 400.80)" x="-3.40">I</text><text transform="matrix(0.759 0 0 1.000 1510.76 400.80)" x="-8.16">S</text><text transform="matrix(0.724 0 0 1.000 1525.76 400.80)" x="-9.52">O</text><text transform="matrix(0.939 0 0 1.300 1539.33 396.08)" x="-6.77">_</text><text transform="matrix(1.181 0 0 1.216 1552.90 404.00)" x="-1.16">∕</text><text transform="matrix(0.737 0 0 1.000 1568.26 400.80)" x="-9.27">D</text><text transform="matrix(0.715 0 0 1.000 1581.47 400.80)" x="-7.48">T</text><text transform="matrix(0.756 0 0 1.000 1594.69 400.80)" x="-9.28">R</text><text transform="matrix(0.939 0 0 1.300 1607.90 396.08)" x="-6.77">_</text>
<line x1="1145.70" y1="393.00" x2="1310.70" y2="393.00" stroke-width="2.00"/>
<text transform="matrix(0.759 0 0 1.000 1154.14 387.80)" x="-8.16">S</text><text transform="matrix(0.641 0 0 1.000 1169.86 387.80)" x="-11.57">W</text><text transform="matrix(0.735 0 0 1.000 1185.93 387.80)" x="-9.00">C</text><text transform="matrix(0.842 0 0 1.000 1200.30 387.80)" x="-7.41">L</text><text transform="matrix(0.754 0 0 1.000 1213.07 387.80)" x="-9.04">K</text><text transform="matrix(0.939 0 0 1.300 1226.29 383.08)" x="-6.77">_</text><text transform="matrix(0.735 0 0 1.000 1239.50 387.80)" x="-9.00">C</text><text transform="matrix(0.782 0 0 1.000 1254.86 387.80)" x="-8.85">H</text><text transform="matrix(0.938 0 0 1.000 1269.86 387.80)" x="-6.79">5</text><text transform="matrix(0.948 0 0 1.000 1284.14 387.80)" x="-6.81">8</text><text transform="matrix(1.048 0 0 1.000 1298.43 387.80)" x="-6.81">2</text>
<line x1="1310.70" y1="423.00" x2="1340.70" y2="423.00" stroke-width="2.00"/>
<text transform="matrix(0.963 0 0 1.000 1325.70 418.80)" x="-6.81">9</text>
<text transform="matrix(0.836 0 0 1.000 1355.40 430.80)" x="-8.53">P</text><text transform="matrix(0.821 0 0 1.000 1370.40 430.80)" x="-8.53">B</text><text transform="matrix(1.003 0 0 1.000 1384.44 430.80)" x="-7.15">1</text><text transform="matrix(0.915 0 0 1.000 1399.33 430.80)" x="-6.74">4</text><text transform="matrix(1.181 0 0 1.216 1414.33 434.00)" x="-1.16">∕</text><text transform="matrix(0.715 0 0 1.000 1427.90 430.80)" x="-7.48">T</text><text transform="matrix(0.919 0 0 1.000 1437.19 430.80)" x="-3.40">I</text><text transform="matrix(0.724 0 0 1.000 1448.61 430.80)" x="-9.52">O</text><text transform="matrix(1.181 0 0 1.216 1464.33 434.00)" x="-1.16">∕</text><text transform="matrix(0.737 0 0 1.000 1479.69 430.80)" x="-9.27">D</text><text transform="matrix(0.759 0 0 1.000 1494.33 430.80)" x="-8.16">S</text><text transform="matrix(0.756 0 0 1.000 1508.97 430.80)" x="-9.28">R</text><text transform="matrix(0.939 0 0 1.300 1522.19 426.08)" x="-6.77">_</text><text transform="matrix(1.181 0 0 1.216 1535.76 434.00)" x="-1.16">∕</text><text transform="matrix(0.769 0 0 1.000 1552.19 430.80)" x="-10.20">M</text><text transform="matrix(0.724 0 0 1.000 1568.61 430.80)" x="-9.52">O</text><text transform="matrix(0.759 0 0 1.000 1583.61 430.80)" x="-8.16">S</text><text transform="matrix(0.919 0 0 1.000 1594.33 430.80)" x="-3.40">I</text><text transform="matrix(0.939 0 0 1.300 1603.61 426.08)" x="-6.77">_</text><text transform="matrix(1.181 0 0 1.216 1617.19 434.00)" x="-1.16">∕</text><text transform="matrix(0.836 0 0 1.000 1632.54 430.80)" x="-8.53">P</text><text transform="matrix(0.641 0 0 1.000 1648.61 430.80)" x="-11.57">W</text><text transform="matrix(0.769 0 0 1.000 1665.76 430.80)" x="-10.20">M</text><text transform="matrix(1.003 0 0 1.000 1680.87 430.80)" x="-7.15">1</text><text transform="matrix(0.931 0 0 1.000 1695.76 430.80)" x="-6.81">0</text>
<line x1="1145.70" y1="423.00" x2="1310.70" y2="423.00" stroke-width="2.00"/>
<text transform="matrix(0.759 0 0 1.000 1154.14 417.80)" x="-8.16">S</text><text transform="matrix(0.641 0 0 1.000 1169.86 417.80)" x="-11.57">W</text><text transform="matrix(0.737 0 0 1.000 1185.93 417.80)" x="-9.27">D</text><text transform="matrix(0.919 0 0 1.000 1197.00 417.80)" x="-3.40">I</text><text transform="matrix(0.724 0 0 1.000 1208.43 417.80)" x="-9.52">O</text><text transform="matrix(0.939 0 0 1.300 1222.00 413.08)" x="-6.77">_</text><text transform="matrix(0.735 0 0 1.000 1235.21 417.80)" x="-9.00">C</text><text transform="matrix(0.782 0 0 1.000 1250.57 417.80)" x="-8.85">H</text><text transform="matrix(0.938 0 0 1.000 1265.57 417.80)" x="-6.79">5</text><text transform="matrix(0.948 0 0 1.000 1279.86 417.80)" x="-6.81">8</text><text transform="matrix(1.048 0 0 1.000 1294.14 417.80)" x="-6.81">2</text>
<line x1="1310.70" y1="453.00" x2="1340.70" y2="453.00" stroke-width="2.00"/>
<text transform="matrix(1.003 0 0 1.000 1317.96 448.80)" x="-7.15">1</text><text transform="matrix(0.931 0 0 1.000 1332.84 448.80)" x="-6.81">0</text>
<text transform="matrix(0.836 0 0 1.000 1355.40 460.80)" x="-8.53">P</text><text transform="matrix(0.821 0 0 1.000 1370.40 460.80)" x="-8.53">B</text><text transform="matrix(1.003 0 0 1.000 1384.44 460.80)" x="-7.15">1</text><text transform="matrix(0.999 0 0 1.000 1399.33 460.80)" x="-6.74">3</text><text transform="matrix(1.181 0 0 1.216 1414.33 464.00)" x="-1.16">∕</text><text transform="matrix(0.769 0 0 1.000 1430.04 460.80)" x="-8.85">U</text><text transform="matrix(1.048 0 0 1.000 1445.04 460.80)" x="-6.81">2</text><text transform="matrix(0.737 0 0 1.000 1459.69 460.80)" x="-9.27">D</text><text transform="matrix(1.117 0 0 1.070 1476.47 462.80)" x="-7.15">+</text><text transform="matrix(1.181 0 0 1.216 1493.61 464.00)" x="-1.16">∕</text><text transform="matrix(0.759 0 0 1.000 1508.61 460.80)" x="-8.16">S</text><text transform="matrix(0.735 0 0 1.000 1523.26 460.80)" x="-9.00">C</text><text transform="matrix(0.754 0 0 1.000 1538.26 460.80)" x="-9.04">K</text><text transform="matrix(0.931 0 0 1.000 1552.90 460.80)" x="-6.81">0</text><text transform="matrix(0.939 0 0 1.300 1565.76 456.08)" x="-6.77">_</text><text transform="matrix(1.181 0 0 1.216 1579.33 464.00)" x="-1.16">∕</text><text transform="matrix(0.759 0 0 1.000 1594.33 460.80)" x="-8.16">S</text><text transform="matrix(0.735 0 0 1.000 1608.97 460.80)" x="-9.00">C</text><text transform="matrix(0.842 0 0 1.000 1623.34 460.80)" x="-7.41">L</text><text transform="matrix(1.181 0 0 1.216 1636.47 464.00)" x="-1.16">∕</text><text transform="matrix(0.715 0 0 1.000 1650.04 460.80)" x="-7.48">T</text><text transform="matrix(0.792 0 0 1.000 1662.90 460.80)" x="-8.19">X</text><text transform="matrix(0.737 0 0 1.000 1677.54 460.80)" x="-9.27">D</text><text transform="matrix(1.003 0 0 1.000 1691.59 460.80)" x="-7.15">1</text><text transform="matrix(0.939 0 0 1.300 1705.04 456.08)" x="-6.77">_</text>
<line x1="1145.70" y1="453.00" x2="1310.70" y2="453.00" stroke-width="2.00"/>
<text transform="matrix(0.759 0 0 1.000 1154.14 447.80)" x="-8.16">S</text><text transform="matrix(0.737 0 0 1.000 1168.79 447.80)" x="-9.27">D</text><text transform="matrix(0.739 0 0 1.000 1182.71 447.80)" x="-8.17">A</text><text transform="matrix(0.939 0 0 1.300 1194.86 443.08)" x="-6.77">_</text><text transform="matrix(0.735 0 0 1.000 1208.07 447.80)" x="-9.00">C</text><text transform="matrix(0.782 0 0 1.000 1223.43 447.80)" x="-8.85">H</text><text transform="matrix(0.938 0 0 1.000 1238.43 447.80)" x="-6.79">5</text><text transform="matrix(0.948 0 0 1.000 1252.71 447.80)" x="-6.81">8</text><text transform="matrix(1.048 0 0 1.000 1267.00 447.80)" x="-6.81">2</text>
<line x1="1310.70" y1="483.00" x2="1340.70" y2="483.00" stroke-width="2.00"/>
<text transform="matrix(1.003 0 0 1.000 1317.96 478.80)" x="-7.15">1</text><text transform="matrix(1.003 0 0 1.000 1332.24 478.80)" x="-7.15">1</text>
<text transform="matrix(0.836 0 0 1.000 1355.40 490.80)" x="-8.53">P</text><text transform="matrix(0.821 0 0 1.000 1370.40 490.80)" x="-8.53">B</text><text transform="matrix(1.003 0 0 1.000 1384.44 490.80)" x="-7.15">1</text><text transform="matrix(1.048 0 0 1.000 1399.33 490.80)" x="-6.81">2</text><text transform="matrix(1.181 0 0 1.216 1414.33 494.00)" x="-1.16">∕</text><text transform="matrix(0.769 0 0 1.000 1430.04 490.80)" x="-8.85">U</text><text transform="matrix(1.048 0 0 1.000 1445.04 490.80)" x="-6.81">2</text><text transform="matrix(0.737 0 0 1.000 1459.69 490.80)" x="-9.27">D</text><text transform="matrix(0.962 0 0 1.200 1476.47 491.60)" x="-6.81">–</text><text transform="matrix(1.181 0 0 1.216 1493.61 494.00)" x="-1.16">∕</text><text transform="matrix(0.759 0 0 1.000 1508.61 490.80)" x="-8.16">S</text><text transform="matrix(0.735 0 0 1.000 1523.26 490.80)" x="-9.00">C</text><text transform="matrix(0.759 0 0 1.000 1537.90 490.80)" x="-8.16">S</text><text transform="matrix(0.939 0 0 1.300 1550.76 486.08)" x="-6.77">_</text><text transform="matrix(1.181 0 0 1.216 1564.33 494.00)" x="-1.16">∕</text><text transform="matrix(0.759 0 0 1.000 1579.33 490.80)" x="-8.16">S</text><text transform="matrix(0.737 0 0 1.000 1593.97 490.80)" x="-9.27">D</text><text transform="matrix(0.739 0 0 1.000 1607.90 490.80)" x="-8.17">A</text><text transform="matrix(1.181 0 0 1.216 1622.19 494.00)" x="-1.16">∕</text><text transform="matrix(0.756 0 0 1.000 1637.54 490.80)" x="-9.28">R</text><text transform="matrix(0.792 0 0 1.000 1652.19 490.80)" x="-8.19">X</text><text transform="matrix(0.737 0 0 1.000 1666.83 490.80)" x="-9.27">D</text><text transform="matrix(1.003 0 0 1.000 1680.87 490.80)" x="-7.15">1</text><text transform="matrix(0.939 0 0 1.300 1694.33 486.08)" x="-6.77">_</text>
<line x1="1145.70" y1="483.00" x2="1310.70" y2="483.00" stroke-width="2.00"/>
<text transform="matrix(0.759 0 0 1.000 1154.14 477.80)" x="-8.16">S</text><text transform="matrix(0.735 0 0 1.000 1168.79 477.80)" x="-9.00">C</text><text transform="matrix(0.842 0 0 1.000 1183.16 477.80)" x="-7.41">L</text><text transform="matrix(0.939 0 0 1.300 1194.14 473.08)" x="-6.77">_</text><text transform="matrix(0.735 0 0 1.000 1207.36 477.80)" x="-9.00">C</text><text transform="matrix(0.782 0 0 1.000 1222.71 477.80)" x="-8.85">H</text><text transform="matrix(0.938 0 0 1.000 1237.71 477.80)" x="-6.79">5</text><text transform="matrix(0.948 0 0 1.000 1252.00 477.80)" x="-6.81">8</text><text transform="matrix(1.048 0 0 1.000 1266.29 477.80)" x="-6.81">2</text>
<line x1="1310.70" y1="513.00" x2="1340.70" y2="513.00" stroke-width="2.00"/>
<text transform="matrix(1.003 0 0 1.000 1317.96 508.80)" x="-7.15">1</text><text transform="matrix(1.048 0 0 1.000 1332.84 508.80)" x="-6.81">2</text>
<text transform="matrix(0.836 0 0 1.000 1355.40 520.80)" x="-8.53">P</text><text transform="matrix(0.821 0 0 1.000 1370.40 520.80)" x="-8.53">B</text><text transform="matrix(1.003 0 0 1.000 1384.44 520.80)" x="-7.15">1</text><text transform="matrix(1.003 0 0 1.000 1398.73 520.80)" x="-7.15">1</text><text transform="matrix(1.181 0 0 1.216 1414.33 524.00)" x="-1.16">∕</text><text transform="matrix(0.769 0 0 1.000 1430.04 520.80)" x="-8.85">U</text><text transform="matrix(0.737 0 0 1.000 1445.40 520.80)" x="-9.27">D</text><text transform="matrix(1.117 0 0 1.070 1462.19 522.80)" x="-7.15">+</text><text transform="matrix(1.181 0 0 1.216 1479.33 524.00)" x="-1.16">∕</text><text transform="matrix(0.715 0 0 1.000 1492.90 520.80)" x="-7.48">T</text><text transform="matrix(0.769 0 0 1.000 1507.19 520.80)" x="-10.20">M</text><text transform="matrix(0.756 0 0 1.000 1523.26 520.80)" x="-9.28">R</text><text transform="matrix(1.048 0 0 1.000 1537.90 520.80)" x="-6.81">2</text><text transform="matrix(0.939 0 0 1.300 1550.76 516.08)" x="-6.77">_</text>
<line x1="1303.50" y1="505.80" x2="1317.90" y2="520.20" stroke-width="1.90"/>
<line x1="1303.50" y1="520.20" x2="1317.90" y2="505.80" stroke-width="1.90"/>
<line x1="1310.70" y1="543.00" x2="1340.70" y2="543.00" stroke-width="2.00"/>
<text transform="matrix(1.003 0 0 1.000 1317.96 538.80)" x="-7.15">1</text><text transform="matrix(0.999 0 0 1.000 1332.84 538.80)" x="-6.74">3</text>
<text transform="matrix(0.836 0 0 1.000 1355.40 550.80)" x="-8.53">P</text><text transform="matrix(0.821 0 0 1.000 1370.40 550.80)" x="-8.53">B</text><text transform="matrix(1.003 0 0 1.000 1384.44 550.80)" x="-7.15">1</text><text transform="matrix(0.931 0 0 1.000 1399.33 550.80)" x="-6.81">0</text><text transform="matrix(1.181 0 0 1.216 1414.33 554.00)" x="-1.16">∕</text><text transform="matrix(0.769 0 0 1.000 1430.04 550.80)" x="-8.85">U</text><text transform="matrix(0.737 0 0 1.000 1445.40 550.80)" x="-9.27">D</text><text transform="matrix(0.962 0 0 1.200 1462.19 551.60)" x="-6.81">–</text><text transform="matrix(1.181 0 0 1.216 1479.33 554.00)" x="-1.16">∕</text><text transform="matrix(0.715 0 0 1.000 1492.90 550.80)" x="-7.48">T</text><text transform="matrix(0.769 0 0 1.000 1507.19 550.80)" x="-10.20">M</text><text transform="matrix(0.756 0 0 1.000 1523.26 550.80)" x="-9.28">R</text><text transform="matrix(1.003 0 0 1.000 1537.30 550.80)" x="-7.15">1</text><text transform="matrix(0.939 0 0 1.300 1550.76 546.08)" x="-6.77">_</text>
<line x1="1303.50" y1="535.80" x2="1317.90" y2="550.20" stroke-width="1.90"/>
<line x1="1303.50" y1="550.20" x2="1317.90" y2="535.80" stroke-width="1.90"/>
<line x1="1310.70" y1="573.00" x2="1340.70" y2="573.00" stroke-width="2.00"/>
<text transform="matrix(1.003 0 0 1.000 1317.96 568.80)" x="-7.15">1</text><text transform="matrix(0.915 0 0 1.000 1332.84 568.80)" x="-6.74">4</text>
<text transform="matrix(0.836 0 0 1.000 1355.40 580.80)" x="-8.53">P</text><text transform="matrix(0.821 0 0 1.000 1370.40 580.80)" x="-8.53">B</text><text transform="matrix(0.979 0 0 1.000 1385.04 580.80)" x="-6.82">7</text><text transform="matrix(1.181 0 0 1.216 1400.04 584.00)" x="-1.16">∕</text><text transform="matrix(0.715 0 0 1.000 1413.61 580.80)" x="-7.48">T</text><text transform="matrix(0.792 0 0 1.000 1426.47 580.80)" x="-8.19">X</text><text transform="matrix(0.737 0 0 1.000 1441.11 580.80)" x="-9.27">D</text><text transform="matrix(0.931 0 0 1.000 1455.76 580.80)" x="-6.81">0</text><text transform="matrix(1.181 0 0 1.216 1470.76 584.00)" x="-1.16">∕</text><text transform="matrix(0.836 0 0 1.000 1486.11 580.80)" x="-8.53">P</text><text transform="matrix(0.641 0 0 1.000 1502.19 580.80)" x="-11.57">W</text><text transform="matrix(0.769 0 0 1.000 1519.33 580.80)" x="-10.20">M</text><text transform="matrix(0.963 0 0 1.000 1535.04 580.80)" x="-6.81">9</text>
<line x1="1303.50" y1="565.80" x2="1317.90" y2="580.20" stroke-width="1.90"/>
<line x1="1303.50" y1="580.20" x2="1317.90" y2="565.80" stroke-width="1.90"/>
<line x1="2450.70" y1="183.00" x2="2480.70" y2="183.00" stroke-width="2.00"/>
<text transform="matrix(1.048 0 0 1.000 2458.56 178.80)" x="-6.81">2</text><text transform="matrix(0.948 0 0 1.000 2472.84 178.80)" x="-6.81">8</text>
<text transform="matrix(0.836 0 0 1.000 2190.29 190.80)" x="-8.53">P</text><text transform="matrix(0.739 0 0 1.000 2204.21 190.80)" x="-8.17">A</text><text transform="matrix(1.003 0 0 1.000 2217.19 190.80)" x="-7.15">1</text><text transform="matrix(1.048 0 0 1.000 2232.07 190.80)" x="-6.81">2</text><text transform="matrix(1.181 0 0 1.216 2247.07 194.00)" x="-1.16">∕</text><text transform="matrix(0.759 0 0 1.000 2262.07 190.80)" x="-8.16">S</text><text transform="matrix(0.735 0 0 1.000 2276.71 190.80)" x="-9.00">C</text><text transform="matrix(0.759 0 0 1.000 2291.36 190.80)" x="-8.16">S</text><text transform="matrix(1.181 0 0 1.216 2306.36 194.00)" x="-1.16">∕</text><text transform="matrix(0.836 0 0 1.000 2321.71 190.80)" x="-8.53">P</text><text transform="matrix(0.641 0 0 1.000 2337.79 190.80)" x="-11.57">W</text><text transform="matrix(0.769 0 0 1.000 2354.93 190.80)" x="-10.20">M</text><text transform="matrix(0.915 0 0 1.000 2370.64 190.80)" x="-6.74">4</text><text transform="matrix(1.181 0 0 1.216 2385.64 194.00)" x="-1.16">∕</text><text transform="matrix(0.739 0 0 1.000 2399.93 190.80)" x="-8.17">A</text><text transform="matrix(0.919 0 0 1.000 2409.93 190.80)" x="-3.40">I</text><text transform="matrix(0.782 0 0 1.000 2421.36 190.80)" x="-8.85">N</text><text transform="matrix(1.048 0 0 1.000 2436.36 190.80)" x="-6.81">2</text>
<line x1="2480.70" y1="183.00" x2="2690.70" y2="183.00" stroke-width="2.00"/>
<text transform="matrix(0.754 0 0 1.000 2509.14 177.80)" x="-9.04">K</text><text transform="matrix(0.700 0 0 1.000 2523.43 177.80)" x="-8.65">E</text><text transform="matrix(0.786 0 0 1.000 2536.64 177.80)" x="-8.17">Y</text><text transform="matrix(0.939 0 0 1.300 2548.79 173.08)" x="-6.77">_</text><text transform="matrix(0.836 0 0 1.000 2562.00 177.80)" x="-8.53">P</text><text transform="matrix(0.739 0 0 1.000 2575.93 177.80)" x="-8.17">A</text><text transform="matrix(0.919 0 0 1.000 2585.93 177.80)" x="-3.40">I</text><text transform="matrix(0.756 0 0 1.000 2597.00 177.80)" x="-9.28">R</text><text transform="matrix(0.939 0 0 1.300 2610.21 173.08)" x="-6.77">_</text><text transform="matrix(0.735 0 0 1.000 2623.43 177.80)" x="-9.00">C</text><text transform="matrix(0.782 0 0 1.000 2638.79 177.80)" x="-8.85">H</text><text transform="matrix(0.938 0 0 1.000 2653.79 177.80)" x="-6.79">5</text><text transform="matrix(0.948 0 0 1.000 2668.07 177.80)" x="-6.81">8</text><text transform="matrix(1.048 0 0 1.000 2682.36 177.80)" x="-6.81">2</text>
<line x1="2450.70" y1="213.00" x2="2480.70" y2="213.00" stroke-width="2.00"/>
<text transform="matrix(1.048 0 0 1.000 2458.56 208.80)" x="-6.81">2</text><text transform="matrix(0.979 0 0 1.000 2472.84 208.80)" x="-6.82">7</text>
<text transform="matrix(0.836 0 0 1.000 2175.29 220.80)" x="-8.53">P</text><text transform="matrix(0.739 0 0 1.000 2189.21 220.80)" x="-8.17">A</text><text transform="matrix(1.003 0 0 1.000 2202.19 220.80)" x="-7.15">1</text><text transform="matrix(0.999 0 0 1.000 2217.07 220.80)" x="-6.74">3</text><text transform="matrix(1.181 0 0 1.216 2232.07 224.00)" x="-1.16">∕</text><text transform="matrix(0.759 0 0 1.000 2247.07 220.80)" x="-8.16">S</text><text transform="matrix(0.735 0 0 1.000 2261.71 220.80)" x="-9.00">C</text><text transform="matrix(0.754 0 0 1.000 2276.71 220.80)" x="-9.04">K</text><text transform="matrix(0.931 0 0 1.000 2291.36 220.80)" x="-6.81">0</text><text transform="matrix(1.181 0 0 1.216 2306.36 224.00)" x="-1.16">∕</text><text transform="matrix(0.836 0 0 1.000 2321.71 220.80)" x="-8.53">P</text><text transform="matrix(0.641 0 0 1.000 2337.79 220.80)" x="-11.57">W</text><text transform="matrix(0.769 0 0 1.000 2354.93 220.80)" x="-10.20">M</text><text transform="matrix(0.938 0 0 1.000 2370.64 220.80)" x="-6.79">5</text><text transform="matrix(1.181 0 0 1.216 2385.64 224.00)" x="-1.16">∕</text><text transform="matrix(0.739 0 0 1.000 2399.93 220.80)" x="-8.17">A</text><text transform="matrix(0.919 0 0 1.000 2409.93 220.80)" x="-3.40">I</text><text transform="matrix(0.782 0 0 1.000 2421.36 220.80)" x="-8.85">N</text><text transform="matrix(0.999 0 0 1.000 2436.36 220.80)" x="-6.74">3</text>
<line x1="2473.50" y1="205.80" x2="2487.90" y2="220.20" stroke-width="1.90"/>
<line x1="2473.50" y1="220.20" x2="2487.90" y2="205.80" stroke-width="1.90"/>
<line x1="2450.70" y1="243.00" x2="2480.70" y2="243.00" stroke-width="2.00"/>
<text transform="matrix(1.048 0 0 1.000 2458.56 238.80)" x="-6.81">2</text><text transform="matrix(0.964 0 0 1.000 2472.84 238.80)" x="-6.90">6</text>
<text transform="matrix(0.836 0 0 1.000 2176.71 250.80)" x="-8.53">P</text><text transform="matrix(0.739 0 0 1.000 2190.64 250.80)" x="-8.17">A</text><text transform="matrix(1.003 0 0 1.000 2203.61 250.80)" x="-7.15">1</text><text transform="matrix(0.915 0 0 1.000 2218.50 250.80)" x="-6.74">4</text><text transform="matrix(1.181 0 0 1.216 2233.50 254.00)" x="-1.16">∕</text><text transform="matrix(0.769 0 0 1.000 2249.93 250.80)" x="-10.20">M</text><text transform="matrix(0.724 0 0 1.000 2266.36 250.80)" x="-9.52">O</text><text transform="matrix(0.759 0 0 1.000 2281.36 250.80)" x="-8.16">S</text><text transform="matrix(0.919 0 0 1.000 2292.07 250.80)" x="-3.40">I</text><text transform="matrix(1.181 0 0 1.216 2303.50 254.00)" x="-1.16">∕</text><text transform="matrix(0.715 0 0 1.000 2317.07 250.80)" x="-7.48">T</text><text transform="matrix(0.792 0 0 1.000 2329.93 250.80)" x="-8.19">X</text><text transform="matrix(0.737 0 0 1.000 2344.57 250.80)" x="-9.27">D</text><text transform="matrix(0.931 0 0 1.000 2359.21 250.80)" x="-6.81">0</text><text transform="matrix(0.939 0 0 1.300 2372.07 246.08)" x="-6.77">_</text><text transform="matrix(1.181 0 0 1.216 2385.64 254.00)" x="-1.16">∕</text><text transform="matrix(0.739 0 0 1.000 2399.93 250.80)" x="-8.17">A</text><text transform="matrix(0.919 0 0 1.000 2409.93 250.80)" x="-3.40">I</text><text transform="matrix(0.782 0 0 1.000 2421.36 250.80)" x="-8.85">N</text><text transform="matrix(0.915 0 0 1.000 2436.36 250.80)" x="-6.74">4</text>
<line x1="2480.70" y1="243.00" x2="2645.70" y2="243.00" stroke-width="2.00"/>
<text transform="matrix(0.715 0 0 1.000 2524.50 237.80)" x="-7.48">T</text><text transform="matrix(0.792 0 0 1.000 2537.36 237.80)" x="-8.19">X</text><text transform="matrix(0.737 0 0 1.000 2552.00 237.80)" x="-9.27">D</text><text transform="matrix(0.939 0 0 1.300 2565.21 233.08)" x="-6.77">_</text><text transform="matrix(0.735 0 0 1.000 2578.43 237.80)" x="-9.00">C</text><text transform="matrix(0.782 0 0 1.000 2593.79 237.80)" x="-8.85">H</text><text transform="matrix(0.938 0 0 1.000 2608.79 237.80)" x="-6.79">5</text><text transform="matrix(0.948 0 0 1.000 2623.07 237.80)" x="-6.81">8</text><text transform="matrix(1.048 0 0 1.000 2637.36 237.80)" x="-6.81">2</text>
<line x1="2450.70" y1="273.00" x2="2480.70" y2="273.00" stroke-width="2.00"/>
<text transform="matrix(1.048 0 0 1.000 2458.56 268.80)" x="-6.81">2</text><text transform="matrix(0.938 0 0 1.000 2472.84 268.80)" x="-6.79">5</text>
<text transform="matrix(0.836 0 0 1.000 2173.14 280.80)" x="-8.53">P</text><text transform="matrix(0.739 0 0 1.000 2187.07 280.80)" x="-8.17">A</text><text transform="matrix(1.003 0 0 1.000 2200.04 280.80)" x="-7.15">1</text><text transform="matrix(0.938 0 0 1.000 2214.93 280.80)" x="-6.79">5</text><text transform="matrix(1.181 0 0 1.216 2229.93 284.00)" x="-1.16">∕</text><text transform="matrix(0.769 0 0 1.000 2246.36 280.80)" x="-10.20">M</text><text transform="matrix(0.919 0 0 1.000 2258.50 280.80)" x="-3.40">I</text><text transform="matrix(0.759 0 0 1.000 2269.21 280.80)" x="-8.16">S</text><text transform="matrix(0.724 0 0 1.000 2284.21 280.80)" x="-9.52">O</text><text transform="matrix(1.181 0 0 1.216 2299.93 284.00)" x="-1.16">∕</text><text transform="matrix(0.756 0 0 1.000 2315.29 280.80)" x="-9.28">R</text><text transform="matrix(0.792 0 0 1.000 2329.93 280.80)" x="-8.19">X</text><text transform="matrix(0.737 0 0 1.000 2344.57 280.80)" x="-9.27">D</text><text transform="matrix(0.931 0 0 1.000 2359.21 280.80)" x="-6.81">0</text><text transform="matrix(0.939 0 0 1.300 2372.07 276.08)" x="-6.77">_</text><text transform="matrix(1.181 0 0 1.216 2385.64 284.00)" x="-1.16">∕</text><text transform="matrix(0.739 0 0 1.000 2399.93 280.80)" x="-8.17">A</text><text transform="matrix(0.919 0 0 1.000 2409.93 280.80)" x="-3.40">I</text><text transform="matrix(0.782 0 0 1.000 2421.36 280.80)" x="-8.85">N</text><text transform="matrix(0.938 0 0 1.000 2436.36 280.80)" x="-6.79">5</text>
<line x1="2480.70" y1="273.00" x2="2645.70" y2="273.00" stroke-width="2.00"/>
<text transform="matrix(0.756 0 0 1.000 2522.71 267.80)" x="-9.28">R</text><text transform="matrix(0.792 0 0 1.000 2537.36 267.80)" x="-8.19">X</text><text transform="matrix(0.737 0 0 1.000 2552.00 267.80)" x="-9.27">D</text><text transform="matrix(0.939 0 0 1.300 2565.21 263.08)" x="-6.77">_</text><text transform="matrix(0.735 0 0 1.000 2578.43 267.80)" x="-9.00">C</text><text transform="matrix(0.782 0 0 1.000 2593.79 267.80)" x="-8.85">H</text><text transform="matrix(0.938 0 0 1.000 2608.79 267.80)" x="-6.79">5</text><text transform="matrix(0.948 0 0 1.000 2623.07 267.80)" x="-6.81">8</text><text transform="matrix(1.048 0 0 1.000 2637.36 267.80)" x="-6.81">2</text>
<line x1="2450.70" y1="303.00" x2="2480.70" y2="303.00" stroke-width="2.00"/>
<text transform="matrix(1.048 0 0 1.000 2458.56 298.80)" x="-6.81">2</text><text transform="matrix(0.915 0 0 1.000 2472.84 298.80)" x="-6.74">4</text>
<text transform="matrix(0.836 0 0 1.000 2272.43 310.80)" x="-8.53">P</text><text transform="matrix(0.739 0 0 1.000 2286.36 310.80)" x="-8.17">A</text><text transform="matrix(0.938 0 0 1.000 2299.93 310.80)" x="-6.79">5</text><text transform="matrix(1.181 0 0 1.216 2314.93 314.00)" x="-1.16">∕</text><text transform="matrix(0.715 0 0 1.000 2328.50 310.80)" x="-7.48">T</text><text transform="matrix(0.792 0 0 1.000 2341.36 310.80)" x="-8.19">X</text><text transform="matrix(0.737 0 0 1.000 2356.00 310.80)" x="-9.27">D</text><text transform="matrix(0.999 0 0 1.000 2370.64 310.80)" x="-6.74">3</text><text transform="matrix(1.181 0 0 1.216 2385.64 314.00)" x="-1.16">∕</text><text transform="matrix(0.739 0 0 1.000 2399.93 310.80)" x="-8.17">A</text><text transform="matrix(0.919 0 0 1.000 2409.93 310.80)" x="-3.40">I</text><text transform="matrix(0.782 0 0 1.000 2421.36 310.80)" x="-8.85">N</text><text transform="matrix(1.003 0 0 1.000 2435.76 310.80)" x="-7.15">1</text>
<line x1="2473.50" y1="295.80" x2="2487.90" y2="310.20" stroke-width="1.90"/>
<line x1="2473.50" y1="310.20" x2="2487.90" y2="295.80" stroke-width="1.90"/>
<line x1="2450.70" y1="333.00" x2="2480.70" y2="333.00" stroke-width="2.00"/>
<text transform="matrix(1.048 0 0 1.000 2458.56 328.80)" x="-6.81">2</text><text transform="matrix(0.999 0 0 1.000 2472.84 328.80)" x="-6.74">3</text>
<text transform="matrix(0.836 0 0 1.000 2268.86 340.80)" x="-8.53">P</text><text transform="matrix(0.739 0 0 1.000 2282.79 340.80)" x="-8.17">A</text><text transform="matrix(0.915 0 0 1.000 2296.36 340.80)" x="-6.74">4</text><text transform="matrix(1.181 0 0 1.216 2311.36 344.00)" x="-1.16">∕</text><text transform="matrix(0.756 0 0 1.000 2326.71 340.80)" x="-9.28">R</text><text transform="matrix(0.792 0 0 1.000 2341.36 340.80)" x="-8.19">X</text><text transform="matrix(0.737 0 0 1.000 2356.00 340.80)" x="-9.27">D</text><text transform="matrix(0.999 0 0 1.000 2370.64 340.80)" x="-6.74">3</text><text transform="matrix(1.181 0 0 1.216 2385.64 344.00)" x="-1.16">∕</text><text transform="matrix(0.739 0 0 1.000 2399.93 340.80)" x="-8.17">A</text><text transform="matrix(0.919 0 0 1.000 2409.93 340.80)" x="-3.40">I</text><text transform="matrix(0.782 0 0 1.000 2421.36 340.80)" x="-8.85">N</text><text transform="matrix(0.931 0 0 1.000 2436.36 340.80)" x="-6.81">0</text>
<line x1="2473.50" y1="325.80" x2="2487.90" y2="340.20" stroke-width="1.90"/>
<line x1="2473.50" y1="340.20" x2="2487.90" y2="325.80" stroke-width="1.90"/>
<line x1="2450.70" y1="363.00" x2="2480.70" y2="363.00" stroke-width="2.00"/>
<text transform="matrix(1.048 0 0 1.000 2458.56 358.80)" x="-6.81">2</text><text transform="matrix(1.048 0 0 1.000 2472.84 358.80)" x="-6.81">2</text>
<text transform="matrix(0.738 0 0 1.000 2387.07 370.80)" x="-8.17">V</text><text transform="matrix(0.737 0 0 1.000 2401.00 370.80)" x="-9.27">D</text><text transform="matrix(0.735 0 0 1.000 2416.00 370.80)" x="-9.00">C</text><text transform="matrix(0.919 0 0 1.000 2427.07 370.80)" x="-3.40">I</text><text transform="matrix(0.739 0 0 1.000 2437.07 370.80)" x="-8.17">A</text>
<line x1="2480.70" y1="363.00" x2="2645.70" y2="363.00" stroke-width="2.00"/>
<text transform="matrix(0.738 0 0 1.000 2503.07 357.80)" x="-8.17">V</text><text transform="matrix(0.737 0 0 1.000 2517.00 357.80)" x="-9.27">D</text><text transform="matrix(0.735 0 0 1.000 2532.00 357.80)" x="-9.00">C</text><text transform="matrix(0.919 0 0 1.000 2543.07 357.80)" x="-3.40">I</text><text transform="matrix(0.739 0 0 1.000 2553.07 357.80)" x="-8.17">A</text><text transform="matrix(0.939 0 0 1.300 2565.21 353.08)" x="-6.77">_</text><text transform="matrix(0.735 0 0 1.000 2578.43 357.80)" x="-9.00">C</text><text transform="matrix(0.782 0 0 1.000 2593.79 357.80)" x="-8.85">H</text><text transform="matrix(0.938 0 0 1.000 2608.79 357.80)" x="-6.79">5</text><text transform="matrix(0.948 0 0 1.000 2623.07 357.80)" x="-6.81">8</text><text transform="matrix(1.048 0 0 1.000 2637.36 357.80)" x="-6.81">2</text>
<line x1="2450.70" y1="393.00" x2="2480.70" y2="393.00" stroke-width="2.00"/>
<text transform="matrix(1.048 0 0 1.000 2458.56 388.80)" x="-6.81">2</text><text transform="matrix(1.003 0 0 1.000 2472.24 388.80)" x="-7.15">1</text>
<text transform="matrix(0.739 0 0 1.000 2409.93 400.80)" x="-8.17">A</text><text transform="matrix(0.782 0 0 1.000 2424.21 400.80)" x="-8.85">N</text><text transform="matrix(0.715 0 0 1.000 2437.79 400.80)" x="-7.48">T</text>
<line x1="2480.70" y1="393.00" x2="2645.70" y2="393.00" stroke-width="2.00"/>
<text transform="matrix(0.739 0 0 1.000 2525.93 387.80)" x="-8.17">A</text><text transform="matrix(0.782 0 0 1.000 2540.21 387.80)" x="-8.85">N</text><text transform="matrix(0.715 0 0 1.000 2553.79 387.80)" x="-7.48">T</text><text transform="matrix(0.939 0 0 1.300 2565.21 383.08)" x="-6.77">_</text><text transform="matrix(0.735 0 0 1.000 2578.43 387.80)" x="-9.00">C</text><text transform="matrix(0.782 0 0 1.000 2593.79 387.80)" x="-8.85">H</text><text transform="matrix(0.938 0 0 1.000 2608.79 387.80)" x="-6.79">5</text><text transform="matrix(0.948 0 0 1.000 2623.07 387.80)" x="-6.81">8</text><text transform="matrix(1.048 0 0 1.000 2637.36 387.80)" x="-6.81">2</text>
<line x1="2450.70" y1="423.00" x2="2480.70" y2="423.00" stroke-width="2.00"/>
<text transform="matrix(1.048 0 0 1.000 2458.56 418.80)" x="-6.81">2</text><text transform="matrix(0.931 0 0 1.000 2472.84 418.80)" x="-6.81">0</text>
<text transform="matrix(0.738 0 0 1.000 2389.93 430.80)" x="-8.17">V</text><text transform="matrix(0.919 0 0 1.000 2399.93 430.80)" x="-3.40">I</text><text transform="matrix(0.782 0 0 1.000 2411.36 430.80)" x="-8.85">N</text><text transform="matrix(0.715 0 0 1.000 2424.93 430.80)" x="-7.48">T</text><text transform="matrix(0.739 0 0 1.000 2437.07 430.80)" x="-8.17">A</text>
<line x1="2480.70" y1="423.00" x2="2645.70" y2="423.00" stroke-width="2.00"/>
<text transform="matrix(0.738 0 0 1.000 2505.93 417.80)" x="-8.17">V</text><text transform="matrix(0.919 0 0 1.000 2515.93 417.80)" x="-3.40">I</text><text transform="matrix(0.782 0 0 1.000 2527.36 417.80)" x="-8.85">N</text><text transform="matrix(0.715 0 0 1.000 2540.93 417.80)" x="-7.48">T</text><text transform="matrix(0.739 0 0 1.000 2553.07 417.80)" x="-8.17">A</text><text transform="matrix(0.939 0 0 1.300 2565.21 413.08)" x="-6.77">_</text><text transform="matrix(0.735 0 0 1.000 2578.43 417.80)" x="-9.00">C</text><text transform="matrix(0.782 0 0 1.000 2593.79 417.80)" x="-8.85">H</text><text transform="matrix(0.938 0 0 1.000 2608.79 417.80)" x="-6.79">5</text><text transform="matrix(0.948 0 0 1.000 2623.07 417.80)" x="-6.81">8</text><text transform="matrix(1.048 0 0 1.000 2637.36 417.80)" x="-6.81">2</text>
<line x1="2450.70" y1="453.00" x2="2480.70" y2="453.00" stroke-width="2.00"/>
<text transform="matrix(1.003 0 0 1.000 2457.96 448.80)" x="-7.15">1</text><text transform="matrix(0.963 0 0 1.000 2472.84 448.80)" x="-6.81">9</text>
<text transform="matrix(0.792 0 0 1.000 2383.50 460.80)" x="-8.19">X</text><text transform="matrix(0.999 0 0 1.000 2397.79 460.80)" x="-6.74">3</text><text transform="matrix(1.048 0 0 1.000 2412.07 460.80)" x="-6.81">2</text><text transform="matrix(0.769 0 0 1.000 2427.79 460.80)" x="-10.20">M</text><text transform="matrix(0.919 0 0 1.000 2439.93 460.80)" x="-3.40">I</text>
<line x1="2480.70" y1="453.00" x2="2645.70" y2="453.00" stroke-width="2.00"/>
<text transform="matrix(0.724 0 0 1.000 2515.21 447.80)" x="-9.52">O</text><text transform="matrix(0.759 0 0 1.000 2530.21 447.80)" x="-8.16">S</text><text transform="matrix(0.735 0 0 1.000 2544.86 447.80)" x="-9.00">C</text><text transform="matrix(0.919 0 0 1.000 2555.93 447.80)" x="-3.40">I</text><text transform="matrix(0.939 0 0 1.300 2565.21 443.08)" x="-6.77">_</text><text transform="matrix(0.735 0 0 1.000 2578.43 447.80)" x="-9.00">C</text><text transform="matrix(0.782 0 0 1.000 2593.79 447.80)" x="-8.85">H</text><text transform="matrix(0.938 0 0 1.000 2608.79 447.80)" x="-6.79">5</text><text transform="matrix(0.948 0 0 1.000 2623.07 447.80)" x="-6.81">8</text><text transform="matrix(1.048 0 0 1.000 2637.36 447.80)" x="-6.81">2</text>
<line x1="2450.70" y1="483.00" x2="2480.70" y2="483.00" stroke-width="2.00"/>
<text transform="matrix(1.003 0 0 1.000 2457.96 478.80)" x="-7.15">1</text><text transform="matrix(0.948 0 0 1.000 2472.84 478.80)" x="-6.81">8</text>
<text transform="matrix(0.792 0 0 1.000 2374.93 490.80)" x="-8.19">X</text><text transform="matrix(0.999 0 0 1.000 2389.21 490.80)" x="-6.74">3</text><text transform="matrix(1.048 0 0 1.000 2403.50 490.80)" x="-6.81">2</text><text transform="matrix(0.769 0 0 1.000 2419.21 490.80)" x="-10.20">M</text><text transform="matrix(0.724 0 0 1.000 2435.64 490.80)" x="-9.52">O</text>
<line x1="2480.70" y1="483.00" x2="2645.70" y2="483.00" stroke-width="2.00"/>
<text transform="matrix(0.724 0 0 1.000 2506.64 477.80)" x="-9.52">O</text><text transform="matrix(0.759 0 0 1.000 2521.64 477.80)" x="-8.16">S</text><text transform="matrix(0.735 0 0 1.000 2536.29 477.80)" x="-9.00">C</text><text transform="matrix(0.724 0 0 1.000 2551.64 477.80)" x="-9.52">O</text><text transform="matrix(0.939 0 0 1.300 2565.21 473.08)" x="-6.77">_</text><text transform="matrix(0.735 0 0 1.000 2578.43 477.80)" x="-9.00">C</text><text transform="matrix(0.782 0 0 1.000 2593.79 477.80)" x="-8.85">H</text><text transform="matrix(0.938 0 0 1.000 2608.79 477.80)" x="-6.79">5</text><text transform="matrix(0.948 0 0 1.000 2623.07 477.80)" x="-6.81">8</text><text transform="matrix(1.048 0 0 1.000 2637.36 477.80)" x="-6.81">2</text>
<line x1="2450.70" y1="513.00" x2="2480.70" y2="513.00" stroke-width="2.00"/>
<text transform="matrix(1.003 0 0 1.000 2457.96 508.80)" x="-7.15">1</text><text transform="matrix(0.979 0 0 1.000 2472.84 508.80)" x="-6.82">7</text>
<text transform="matrix(0.836 0 0 1.000 2244.57 520.80)" x="-8.53">P</text><text transform="matrix(0.821 0 0 1.000 2259.57 520.80)" x="-8.53">B</text><text transform="matrix(1.048 0 0 1.000 2274.21 520.80)" x="-6.81">2</text><text transform="matrix(1.048 0 0 1.000 2288.50 520.80)" x="-6.81">2</text><text transform="matrix(1.181 0 0 1.216 2303.50 524.00)" x="-1.16">∕</text><text transform="matrix(0.715 0 0 1.000 2317.07 520.80)" x="-7.48">T</text><text transform="matrix(0.769 0 0 1.000 2331.36 520.80)" x="-10.20">M</text><text transform="matrix(0.756 0 0 1.000 2347.43 520.80)" x="-9.28">R</text><text transform="matrix(0.999 0 0 1.000 2362.07 520.80)" x="-6.74">3</text><text transform="matrix(1.181 0 0 1.216 2377.07 524.00)" x="-1.16">∕</text><text transform="matrix(0.756 0 0 1.000 2392.43 520.80)" x="-9.28">R</text><text transform="matrix(0.792 0 0 1.000 2407.07 520.80)" x="-8.19">X</text><text transform="matrix(0.737 0 0 1.000 2421.71 520.80)" x="-9.27">D</text><text transform="matrix(1.048 0 0 1.000 2436.36 520.80)" x="-6.81">2</text>
<line x1="2473.50" y1="505.80" x2="2487.90" y2="520.20" stroke-width="1.90"/>
<line x1="2473.50" y1="520.20" x2="2487.90" y2="505.80" stroke-width="1.90"/>
<line x1="2450.70" y1="543.00" x2="2480.70" y2="543.00" stroke-width="2.00"/>
<text transform="matrix(1.003 0 0 1.000 2457.96 538.80)" x="-7.15">1</text><text transform="matrix(0.964 0 0 1.000 2472.84 538.80)" x="-6.90">6</text>
<text transform="matrix(0.836 0 0 1.000 2075.29 550.80)" x="-8.53">P</text><text transform="matrix(0.821 0 0 1.000 2090.29 550.80)" x="-8.53">B</text><text transform="matrix(1.048 0 0 1.000 2104.93 550.80)" x="-6.81">2</text><text transform="matrix(0.999 0 0 1.000 2119.21 550.80)" x="-6.74">3</text><text transform="matrix(1.181 0 0 1.216 2134.21 554.00)" x="-1.16">∕</text><text transform="matrix(0.756 0 0 1.000 2149.57 550.80)" x="-9.28">R</text><text transform="matrix(0.759 0 0 1.000 2164.21 550.80)" x="-8.16">S</text><text transform="matrix(0.715 0 0 1.000 2177.07 550.80)" x="-7.48">T</text><text transform="matrix(1.181 0 0 1.216 2190.64 554.00)" x="-1.16">∕</text><text transform="matrix(0.715 0 0 1.000 2204.21 550.80)" x="-7.48">T</text><text transform="matrix(0.769 0 0 1.000 2218.50 550.80)" x="-10.20">M</text><text transform="matrix(0.756 0 0 1.000 2234.57 550.80)" x="-9.28">R</text><text transform="matrix(0.931 0 0 1.000 2249.21 550.80)" x="-6.81">0</text><text transform="matrix(0.939 0 0 1.300 2262.07 546.08)" x="-6.77">_</text><text transform="matrix(1.181 0 0 1.216 2275.64 554.00)" x="-1.16">∕</text><text transform="matrix(0.715 0 0 1.000 2289.21 550.80)" x="-7.48">T</text><text transform="matrix(0.792 0 0 1.000 2302.07 550.80)" x="-8.19">X</text><text transform="matrix(0.737 0 0 1.000 2316.71 550.80)" x="-9.27">D</text><text transform="matrix(1.048 0 0 1.000 2331.36 550.80)" x="-6.81">2</text><text transform="matrix(0.939 0 0 1.300 2344.21 546.08)" x="-6.77">_</text><text transform="matrix(1.181 0 0 1.216 2357.79 554.00)" x="-1.16">∕</text><text transform="matrix(0.836 0 0 1.000 2373.14 550.80)" x="-8.53">P</text><text transform="matrix(0.641 0 0 1.000 2389.21 550.80)" x="-11.57">W</text><text transform="matrix(0.769 0 0 1.000 2406.36 550.80)" x="-10.20">M</text><text transform="matrix(1.003 0 0 1.000 2421.47 550.80)" x="-7.15">1</text><text transform="matrix(1.003 0 0 1.000 2435.76 550.80)" x="-7.15">1</text>
<line x1="2473.50" y1="535.80" x2="2487.90" y2="550.20" stroke-width="1.90"/>
<line x1="2473.50" y1="550.20" x2="2487.90" y2="535.80" stroke-width="1.90"/>
<line x1="2450.70" y1="573.00" x2="2480.70" y2="573.00" stroke-width="2.00"/>
<text transform="matrix(1.003 0 0 1.000 2457.96 568.80)" x="-7.15">1</text><text transform="matrix(0.938 0 0 1.000 2472.84 568.80)" x="-6.79">5</text>
<text transform="matrix(0.836 0 0 1.000 2253.14 580.80)" x="-8.53">P</text><text transform="matrix(0.821 0 0 1.000 2268.14 580.80)" x="-8.53">B</text><text transform="matrix(0.915 0 0 1.000 2282.79 580.80)" x="-6.74">4</text><text transform="matrix(1.181 0 0 1.216 2297.79 584.00)" x="-1.16">∕</text><text transform="matrix(0.756 0 0 1.000 2313.14 580.80)" x="-9.28">R</text><text transform="matrix(0.792 0 0 1.000 2327.79 580.80)" x="-8.19">X</text><text transform="matrix(0.737 0 0 1.000 2342.43 580.80)" x="-9.27">D</text><text transform="matrix(0.931 0 0 1.000 2357.07 580.80)" x="-6.81">0</text><text transform="matrix(1.181 0 0 1.216 2372.07 584.00)" x="-1.16">∕</text><text transform="matrix(0.836 0 0 1.000 2387.43 580.80)" x="-8.53">P</text><text transform="matrix(0.641 0 0 1.000 2403.50 580.80)" x="-11.57">W</text><text transform="matrix(0.769 0 0 1.000 2420.64 580.80)" x="-10.20">M</text><text transform="matrix(0.979 0 0 1.000 2436.36 580.80)" x="-6.82">7</text>
<line x1="2473.50" y1="565.80" x2="2487.90" y2="580.20" stroke-width="1.90"/>
<line x1="2473.50" y1="580.20" x2="2487.90" y2="565.80" stroke-width="1.90"/>
<polyline points="1895.70,603.00 1895.70,648.00 1655.70,648.00" stroke-width="2.00"/>
<text transform="matrix(0.713 0 0 1.000 1664.50 642.80)" x="-9.23">G</text><text transform="matrix(0.782 0 0 1.000 1679.86 642.80)" x="-8.85">N</text><text transform="matrix(0.737 0 0 1.000 1695.21 642.80)" x="-9.27">D</text>
<g transform="rotate(-90)"><text transform="matrix(1.048 0 0 1.000 -625.14 1892.00)" x="-6.81">2</text><text transform="matrix(0.963 0 0 1.000 -610.86 1892.00)" x="-6.81">9</text></g>
<g transform="rotate(-90)"><text transform="matrix(0.700 0 0 1.000 -589.01 1904.00)" x="-8.65">E</text><text transform="matrix(0.836 0 0 1.000 -574.73 1904.00)" x="-8.53">P</text></g>
</g>
</svg>
</body></html>
